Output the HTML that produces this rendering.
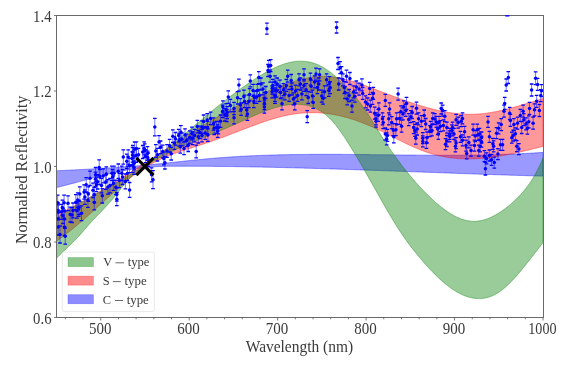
<!DOCTYPE html><html><head><meta charset="utf-8"><style>html,body{margin:0;padding:0;background:#fff;overflow:hidden}svg{display:block;will-change:transform}</style></head><body><svg width="565" height="369" viewBox="0 0 565 369">
<rect width="565" height="369" fill="#fff"/>
<clipPath id="c"><rect x="56.5" y="15.5" width="486.5" height="302.0"/></clipPath>
<g clip-path="url(#c)">
<path d="M56.50,170.78 L57.50,170.73 L58.50,170.68 L59.50,170.63 L60.50,170.58 L61.50,170.53 L62.50,170.48 L63.50,170.43 L64.50,170.38 L65.50,170.33 L66.50,170.28 L67.50,170.23 L68.50,170.18 L69.50,170.13 L70.50,170.08 L71.50,170.03 L72.50,169.98 L73.50,169.93 L74.50,169.88 L75.50,169.83 L76.50,169.77 L77.50,169.72 L78.50,169.67 L79.50,169.62 L80.50,169.57 L81.50,169.51 L82.50,169.46 L83.50,169.41 L84.50,169.35 L85.50,169.30 L86.50,169.25 L87.50,169.19 L88.50,169.14 L89.50,169.08 L90.50,169.03 L91.50,168.97 L92.50,168.92 L93.50,168.86 L94.50,168.80 L95.50,168.75 L96.50,168.69 L97.50,168.63 L98.50,168.57 L99.50,168.51 L100.50,168.45 L101.50,168.39 L102.50,168.33 L103.50,168.27 L104.50,168.21 L105.50,168.15 L106.50,168.09 L107.50,168.03 L108.50,167.96 L109.50,167.90 L110.50,167.83 L111.50,167.77 L112.50,167.70 L113.50,167.64 L114.50,167.57 L115.50,167.50 L116.50,167.43 L117.50,167.36 L118.50,167.29 L119.50,167.22 L120.50,167.15 L121.50,167.08 L122.50,167.01 L123.50,166.93 L124.50,166.86 L125.50,166.79 L126.50,166.71 L127.50,166.63 L128.50,166.56 L129.50,166.48 L130.50,166.40 L131.50,166.32 L132.50,166.24 L133.50,166.16 L134.50,166.08 L135.50,165.99 L136.50,165.91 L137.50,165.82 L138.50,165.74 L139.50,165.65 L140.50,165.56 L141.50,165.48 L142.50,165.39 L143.50,165.30 L144.50,165.20 L145.50,165.11 L146.50,165.02 L147.50,164.92 L148.50,164.83 L149.50,164.73 L150.50,164.64 L151.50,164.54 L152.50,164.44 L153.50,164.34 L154.50,164.24 L155.50,164.14 L156.50,164.04 L157.50,163.94 L158.50,163.83 L159.50,163.73 L160.50,163.63 L161.50,163.52 L162.50,163.42 L163.50,163.31 L164.50,163.21 L165.50,163.10 L166.50,163.00 L167.50,162.89 L168.50,162.78 L169.50,162.68 L170.50,162.57 L171.50,162.46 L172.50,162.35 L173.50,162.25 L174.50,162.14 L175.50,162.03 L176.50,161.92 L177.50,161.82 L178.50,161.71 L179.50,161.60 L180.50,161.49 L181.50,161.39 L182.50,161.28 L183.50,161.17 L184.50,161.07 L185.50,160.96 L186.50,160.86 L187.50,160.75 L188.50,160.65 L189.50,160.54 L190.50,160.44 L191.50,160.33 L192.50,160.23 L193.50,160.13 L194.50,160.03 L195.50,159.93 L196.50,159.82 L197.50,159.72 L198.50,159.63 L199.50,159.53 L200.50,159.43 L201.50,159.33 L202.50,159.24 L203.50,159.14 L204.50,159.05 L205.50,158.95 L206.50,158.86 L207.50,158.77 L208.50,158.68 L209.50,158.59 L210.50,158.50 L211.50,158.42 L212.50,158.33 L213.50,158.25 L214.50,158.16 L215.50,158.08 L216.50,158.00 L217.50,157.92 L218.50,157.84 L219.50,157.76 L220.50,157.69 L221.50,157.61 L222.50,157.54 L223.50,157.46 L224.50,157.39 L225.50,157.32 L226.50,157.25 L227.50,157.18 L228.50,157.11 L229.50,157.04 L230.50,156.98 L231.50,156.91 L232.50,156.85 L233.50,156.78 L234.50,156.72 L235.50,156.66 L236.50,156.60 L237.50,156.54 L238.50,156.48 L239.50,156.42 L240.50,156.37 L241.50,156.31 L242.50,156.26 L243.50,156.20 L244.50,156.15 L245.50,156.10 L246.50,156.05 L247.50,156.00 L248.50,155.95 L249.50,155.90 L250.50,155.85 L251.50,155.81 L252.50,155.76 L253.50,155.71 L254.50,155.67 L255.50,155.63 L256.50,155.58 L257.50,155.54 L258.50,155.50 L259.50,155.46 L260.50,155.42 L261.50,155.39 L262.50,155.35 L263.50,155.31 L264.50,155.28 L265.50,155.24 L266.50,155.21 L267.50,155.17 L268.50,155.14 L269.50,155.11 L270.50,155.08 L271.50,155.05 L272.50,155.02 L273.50,154.99 L274.50,154.96 L275.50,154.93 L276.50,154.90 L277.50,154.88 L278.50,154.85 L279.50,154.83 L280.50,154.80 L281.50,154.78 L282.50,154.76 L283.50,154.74 L284.50,154.71 L285.50,154.69 L286.50,154.67 L287.50,154.65 L288.50,154.63 L289.50,154.62 L290.50,154.60 L291.50,154.58 L292.50,154.57 L293.50,154.55 L294.50,154.53 L295.50,154.52 L296.50,154.51 L297.50,154.49 L298.50,154.48 L299.50,154.47 L300.50,154.46 L301.50,154.44 L302.50,154.43 L303.50,154.42 L304.50,154.41 L305.50,154.40 L306.50,154.40 L307.50,154.39 L308.50,154.38 L309.50,154.37 L310.50,154.37 L311.50,154.36 L312.50,154.36 L313.50,154.35 L314.50,154.35 L315.50,154.34 L316.50,154.34 L317.50,154.33 L318.50,154.33 L319.50,154.33 L320.50,154.33 L321.50,154.33 L322.50,154.32 L323.50,154.32 L324.50,154.32 L325.50,154.32 L326.50,154.32 L327.50,154.32 L328.50,154.33 L329.50,154.33 L330.50,154.33 L331.50,154.33 L332.50,154.33 L333.50,154.34 L334.50,154.34 L335.50,154.34 L336.50,154.35 L337.50,154.35 L338.50,154.36 L339.50,154.36 L340.50,154.37 L341.50,154.37 L342.50,154.38 L343.50,154.38 L344.50,154.39 L345.50,154.40 L346.50,154.40 L347.50,154.41 L348.50,154.42 L349.50,154.42 L350.50,154.43 L351.50,154.44 L352.50,154.45 L353.50,154.46 L354.50,154.47 L355.50,154.47 L356.50,154.48 L357.50,154.49 L358.50,154.50 L359.50,154.51 L360.50,154.52 L361.50,154.53 L362.50,154.54 L363.50,154.55 L364.50,154.56 L365.50,154.57 L366.50,154.58 L367.50,154.59 L368.50,154.60 L369.50,154.62 L370.50,154.63 L371.50,154.64 L372.50,154.65 L373.50,154.66 L374.50,154.67 L375.50,154.68 L376.50,154.69 L377.50,154.71 L378.50,154.72 L379.50,154.73 L380.50,154.74 L381.50,154.75 L382.50,154.76 L383.50,154.78 L384.50,154.79 L385.50,154.80 L386.50,154.81 L387.50,154.82 L388.50,154.83 L389.50,154.85 L390.50,154.86 L391.50,154.87 L392.50,154.88 L393.50,154.89 L394.50,154.90 L395.50,154.92 L396.50,154.93 L397.50,154.94 L398.50,154.95 L399.50,154.96 L400.50,154.97 L401.50,154.98 L402.50,154.99 L403.50,155.00 L404.50,155.01 L405.50,155.02 L406.50,155.04 L407.50,155.05 L408.50,155.06 L409.50,155.07 L410.50,155.07 L411.50,155.08 L412.50,155.09 L413.50,155.10 L414.50,155.11 L415.50,155.12 L416.50,155.13 L417.50,155.14 L418.50,155.15 L419.50,155.15 L420.50,155.16 L421.50,155.17 L422.50,155.18 L423.50,155.18 L424.50,155.19 L425.50,155.20 L426.50,155.20 L427.50,155.21 L428.50,155.22 L429.50,155.22 L430.50,155.23 L431.50,155.23 L432.50,155.24 L433.50,155.24 L434.50,155.24 L435.50,155.25 L436.50,155.25 L437.50,155.25 L438.50,155.26 L439.50,155.26 L440.50,155.26 L441.50,155.26 L442.50,155.26 L443.50,155.26 L444.50,155.26 L445.50,155.26 L446.50,155.26 L447.50,155.26 L448.50,155.26 L449.50,155.26 L450.50,155.26 L451.50,155.26 L452.50,155.25 L453.50,155.25 L454.50,155.25 L455.50,155.24 L456.50,155.24 L457.50,155.23 L458.50,155.23 L459.50,155.22 L460.50,155.21 L461.50,155.21 L462.50,155.20 L463.50,155.19 L464.50,155.18 L465.50,155.17 L466.50,155.16 L467.50,155.15 L468.50,155.14 L469.50,155.13 L470.50,155.12 L471.50,155.11 L472.50,155.10 L473.50,155.08 L474.50,155.07 L475.50,155.05 L476.50,155.04 L477.50,155.02 L478.50,155.01 L479.50,154.99 L480.50,154.97 L481.50,154.95 L482.50,154.94 L483.50,154.92 L484.50,154.90 L485.50,154.87 L486.50,154.85 L487.50,154.83 L488.50,154.81 L489.50,154.79 L490.50,154.76 L491.50,154.74 L492.50,154.71 L493.50,154.68 L494.50,154.66 L495.50,154.63 L496.50,154.60 L497.50,154.57 L498.50,154.54 L499.50,154.51 L500.50,154.48 L501.50,154.45 L502.50,154.42 L503.50,154.38 L504.50,154.35 L505.50,154.31 L506.50,154.28 L507.50,154.24 L508.50,154.20 L509.50,154.17 L510.50,154.13 L511.50,154.09 L512.50,154.05 L513.50,154.01 L514.50,153.96 L515.50,153.92 L516.50,153.88 L517.50,153.83 L518.50,153.79 L519.50,153.74 L520.50,153.69 L521.50,153.64 L522.50,153.59 L523.50,153.54 L524.50,153.49 L525.50,153.44 L526.50,153.39 L527.50,153.33 L528.50,153.28 L529.50,153.22 L530.50,153.17 L531.50,153.11 L532.50,153.05 L533.50,152.99 L534.50,152.93 L535.50,152.87 L536.50,152.81 L537.50,152.74 L538.50,152.68 L539.50,152.61 L540.50,152.55 L541.50,152.48 L542.50,152.41 L543.00,152.38 L543.00,176.13 L542.50,176.12 L541.50,176.09 L540.50,176.06 L539.50,176.04 L538.50,176.01 L537.50,175.98 L536.50,175.95 L535.50,175.92 L534.50,175.90 L533.50,175.87 L532.50,175.84 L531.50,175.81 L530.50,175.78 L529.50,175.75 L528.50,175.72 L527.50,175.69 L526.50,175.66 L525.50,175.63 L524.50,175.60 L523.50,175.57 L522.50,175.54 L521.50,175.51 L520.50,175.48 L519.50,175.45 L518.50,175.42 L517.50,175.39 L516.50,175.36 L515.50,175.33 L514.50,175.30 L513.50,175.27 L512.50,175.24 L511.50,175.21 L510.50,175.18 L509.50,175.14 L508.50,175.11 L507.50,175.08 L506.50,175.05 L505.50,175.02 L504.50,174.98 L503.50,174.95 L502.50,174.92 L501.50,174.89 L500.50,174.86 L499.50,174.82 L498.50,174.79 L497.50,174.76 L496.50,174.72 L495.50,174.69 L494.50,174.66 L493.50,174.63 L492.50,174.59 L491.50,174.56 L490.50,174.53 L489.50,174.49 L488.50,174.46 L487.50,174.42 L486.50,174.39 L485.50,174.36 L484.50,174.32 L483.50,174.29 L482.50,174.25 L481.50,174.22 L480.50,174.19 L479.50,174.15 L478.50,174.12 L477.50,174.08 L476.50,174.05 L475.50,174.01 L474.50,173.98 L473.50,173.94 L472.50,173.91 L471.50,173.87 L470.50,173.84 L469.50,173.80 L468.50,173.77 L467.50,173.73 L466.50,173.70 L465.50,173.66 L464.50,173.63 L463.50,173.59 L462.50,173.56 L461.50,173.52 L460.50,173.49 L459.50,173.45 L458.50,173.41 L457.50,173.38 L456.50,173.34 L455.50,173.31 L454.50,173.27 L453.50,173.24 L452.50,173.20 L451.50,173.16 L450.50,173.13 L449.50,173.09 L448.50,173.06 L447.50,173.02 L446.50,172.98 L445.50,172.95 L444.50,172.91 L443.50,172.87 L442.50,172.84 L441.50,172.80 L440.50,172.77 L439.50,172.73 L438.50,172.69 L437.50,172.66 L436.50,172.62 L435.50,172.58 L434.50,172.55 L433.50,172.51 L432.50,172.47 L431.50,172.44 L430.50,172.40 L429.50,172.36 L428.50,172.33 L427.50,172.29 L426.50,172.26 L425.50,172.22 L424.50,172.18 L423.50,172.15 L422.50,172.11 L421.50,172.07 L420.50,172.04 L419.50,172.00 L418.50,171.96 L417.50,171.93 L416.50,171.89 L415.50,171.85 L414.50,171.82 L413.50,171.78 L412.50,171.74 L411.50,171.71 L410.50,171.67 L409.50,171.63 L408.50,171.60 L407.50,171.56 L406.50,171.52 L405.50,171.49 L404.50,171.45 L403.50,171.42 L402.50,171.38 L401.50,171.34 L400.50,171.31 L399.50,171.27 L398.50,171.23 L397.50,171.20 L396.50,171.16 L395.50,171.13 L394.50,171.09 L393.50,171.05 L392.50,171.02 L391.50,170.98 L390.50,170.94 L389.50,170.91 L388.50,170.87 L387.50,170.84 L386.50,170.80 L385.50,170.77 L384.50,170.73 L383.50,170.69 L382.50,170.66 L381.50,170.62 L380.50,170.59 L379.50,170.55 L378.50,170.52 L377.50,170.48 L376.50,170.45 L375.50,170.41 L374.50,170.38 L373.50,170.34 L372.50,170.31 L371.50,170.27 L370.50,170.24 L369.50,170.20 L368.50,170.17 L367.50,170.13 L366.50,170.10 L365.50,170.06 L364.50,170.03 L363.50,169.99 L362.50,169.96 L361.50,169.92 L360.50,169.89 L359.50,169.86 L358.50,169.82 L357.50,169.79 L356.50,169.75 L355.50,169.72 L354.50,169.69 L353.50,169.65 L352.50,169.62 L351.50,169.59 L350.50,169.55 L349.50,169.52 L348.50,169.49 L347.50,169.45 L346.50,169.42 L345.50,169.39 L344.50,169.35 L343.50,169.32 L342.50,169.29 L341.50,169.26 L340.50,169.22 L339.50,169.19 L338.50,169.16 L337.50,169.13 L336.50,169.09 L335.50,169.06 L334.50,169.03 L333.50,169.00 L332.50,168.97 L331.50,168.94 L330.50,168.90 L329.50,168.87 L328.50,168.84 L327.50,168.81 L326.50,168.78 L325.50,168.75 L324.50,168.72 L323.50,168.69 L322.50,168.66 L321.50,168.63 L320.50,168.60 L319.50,168.57 L318.50,168.54 L317.50,168.51 L316.50,168.48 L315.50,168.45 L314.50,168.42 L313.50,168.39 L312.50,168.36 L311.50,168.33 L310.50,168.30 L309.50,168.27 L308.50,168.25 L307.50,168.22 L306.50,168.19 L305.50,168.16 L304.50,168.13 L303.50,168.11 L302.50,168.08 L301.50,168.05 L300.50,168.02 L299.50,168.00 L298.50,167.97 L297.50,167.94 L296.50,167.92 L295.50,167.89 L294.50,167.86 L293.50,167.84 L292.50,167.81 L291.50,167.79 L290.50,167.76 L289.50,167.73 L288.50,167.71 L287.50,167.68 L286.50,167.66 L285.50,167.63 L284.50,167.61 L283.50,167.58 L282.50,167.56 L281.50,167.54 L280.50,167.51 L279.50,167.49 L278.50,167.46 L277.50,167.44 L276.50,167.42 L275.50,167.39 L274.50,167.37 L273.50,167.35 L272.50,167.33 L271.50,167.30 L270.50,167.28 L269.50,167.26 L268.50,167.24 L267.50,167.22 L266.50,167.20 L265.50,167.17 L264.50,167.15 L263.50,167.13 L262.50,167.11 L261.50,167.09 L260.50,167.07 L259.50,167.05 L258.50,167.03 L257.50,167.01 L256.50,166.99 L255.50,166.97 L254.50,166.96 L253.50,166.94 L252.50,166.92 L251.50,166.90 L250.50,166.88 L249.50,166.86 L248.50,166.85 L247.50,166.83 L246.50,166.81 L245.50,166.80 L244.50,166.78 L243.50,166.76 L242.50,166.75 L241.50,166.73 L240.50,166.71 L239.50,166.70 L238.50,166.68 L237.50,166.67 L236.50,166.65 L235.50,166.64 L234.50,166.63 L233.50,166.61 L232.50,166.60 L231.50,166.58 L230.50,166.57 L229.50,166.56 L228.50,166.54 L227.50,166.53 L226.50,166.52 L225.50,166.51 L224.50,166.50 L223.50,166.48 L222.50,166.47 L221.50,166.46 L220.50,166.45 L219.50,166.44 L218.50,166.43 L217.50,166.42 L216.50,166.41 L215.50,166.40 L214.50,166.39 L213.50,166.38 L212.50,166.37 L211.50,166.36 L210.50,166.36 L209.50,166.35 L208.50,166.34 L207.50,166.33 L206.50,166.33 L205.50,166.32 L204.50,166.31 L203.50,166.31 L202.50,166.30 L201.50,166.29 L200.50,166.29 L199.50,166.28 L198.50,166.28 L197.50,166.27 L196.50,166.27 L195.50,166.26 L194.50,166.26 L193.50,166.26 L192.50,166.25 L191.50,166.25 L190.50,166.25 L189.50,166.25 L188.50,166.24 L187.50,166.24 L186.50,166.24 L185.50,166.24 L184.50,166.24 L183.50,166.24 L182.50,166.24 L181.50,166.24 L180.50,166.24 L179.50,166.24 L178.50,166.24 L177.50,166.24 L176.50,166.24 L175.50,166.25 L174.50,166.25 L173.50,166.26 L172.50,166.26 L171.50,166.27 L170.50,166.28 L169.50,166.29 L168.50,166.30 L167.50,166.32 L166.50,166.34 L165.50,166.36 L164.50,166.38 L163.50,166.40 L162.50,166.43 L161.50,166.46 L160.50,166.49 L159.50,166.53 L158.50,166.56 L157.50,166.61 L156.50,166.65 L155.50,166.70 L154.50,166.76 L153.50,166.81 L152.50,166.87 L151.50,166.94 L150.50,167.01 L149.50,167.09 L148.50,167.16 L147.50,167.25 L146.50,167.34 L145.50,167.43 L144.50,167.53 L143.50,167.64 L142.50,167.75 L141.50,167.86 L140.50,167.98 L139.50,168.11 L138.50,168.24 L137.50,168.37 L136.50,168.51 L135.50,168.66 L134.50,168.81 L133.50,168.96 L132.50,169.12 L131.50,169.28 L130.50,169.45 L129.50,169.62 L128.50,169.79 L127.50,169.97 L126.50,170.15 L125.50,170.34 L124.50,170.53 L123.50,170.72 L122.50,170.92 L121.50,171.12 L120.50,171.32 L119.50,171.53 L118.50,171.74 L117.50,171.96 L116.50,172.17 L115.50,172.39 L114.50,172.61 L113.50,172.84 L112.50,173.07 L111.50,173.30 L110.50,173.53 L109.50,173.77 L108.50,174.01 L107.50,174.25 L106.50,174.49 L105.50,174.73 L104.50,174.98 L103.50,175.23 L102.50,175.48 L101.50,175.73 L100.50,175.99 L99.50,176.24 L98.50,176.50 L97.50,176.76 L96.50,177.02 L95.50,177.28 L94.50,177.54 L93.50,177.81 L92.50,178.07 L91.50,178.34 L90.50,178.61 L89.50,178.87 L88.50,179.14 L87.50,179.41 L86.50,179.68 L85.50,179.95 L84.50,180.22 L83.50,180.49 L82.50,180.76 L81.50,181.03 L80.50,181.30 L79.50,181.58 L78.50,181.85 L77.50,182.12 L76.50,182.39 L75.50,182.66 L74.50,182.93 L73.50,183.20 L72.50,183.47 L71.50,183.73 L70.50,184.00 L69.50,184.27 L68.50,184.53 L67.50,184.80 L66.50,185.06 L65.50,185.32 L64.50,185.58 L63.50,185.84 L62.50,186.10 L61.50,186.36 L60.50,186.61 L59.50,186.86 L58.50,187.11 L57.50,187.36 L56.50,187.61 Z" fill="rgb(0,0,255)" fill-opacity="0.4" stroke="rgb(0,0,255)" stroke-opacity="0.4" stroke-width="1"/>
<path d="M56.50,214.74 L57.50,214.27 L58.50,213.80 L59.50,213.33 L60.50,212.85 L61.50,212.36 L62.50,211.88 L63.50,211.39 L64.50,210.89 L65.50,210.39 L66.50,209.89 L67.50,209.39 L68.50,208.88 L69.50,208.37 L70.50,207.85 L71.50,207.34 L72.50,206.82 L73.50,206.29 L74.50,205.76 L75.50,205.23 L76.50,204.70 L77.50,204.16 L78.50,203.62 L79.50,203.08 L80.50,202.53 L81.50,201.99 L82.50,201.43 L83.50,200.88 L84.50,200.32 L85.50,199.76 L86.50,199.20 L87.50,198.64 L88.50,198.07 L89.50,197.50 L90.50,196.92 L91.50,196.35 L92.50,195.77 L93.50,195.19 L94.50,194.61 L95.50,194.02 L96.50,193.44 L97.50,192.85 L98.50,192.25 L99.50,191.66 L100.50,191.06 L101.50,190.47 L102.50,189.86 L103.50,189.26 L104.50,188.66 L105.50,188.05 L106.50,187.44 L107.50,186.83 L108.50,186.22 L109.50,185.61 L110.50,184.99 L111.50,184.37 L112.50,183.75 L113.50,183.13 L114.50,182.51 L115.50,181.88 L116.50,181.26 L117.50,180.63 L118.50,180.00 L119.50,179.37 L120.50,178.74 L121.50,178.11 L122.50,177.47 L123.50,176.84 L124.50,176.20 L125.50,175.56 L126.50,174.92 L127.50,174.28 L128.50,173.64 L129.50,173.00 L130.50,172.36 L131.50,171.71 L132.50,171.07 L133.50,170.42 L134.50,169.77 L135.50,169.13 L136.50,168.48 L137.50,167.83 L138.50,167.18 L139.50,166.53 L140.50,165.87 L141.50,165.22 L142.50,164.57 L143.50,163.92 L144.50,163.26 L145.50,162.61 L146.50,161.95 L147.50,161.30 L148.50,160.64 L149.50,159.99 L150.50,159.33 L151.50,158.68 L152.50,158.02 L153.50,157.37 L154.50,156.71 L155.50,156.05 L156.50,155.40 L157.50,154.74 L158.50,154.08 L159.50,153.43 L160.50,152.77 L161.50,152.12 L162.50,151.46 L163.50,150.80 L164.50,150.15 L165.50,149.50 L166.50,148.84 L167.50,148.19 L168.50,147.53 L169.50,146.88 L170.50,146.23 L171.50,145.58 L172.50,144.92 L173.50,144.27 L174.50,143.62 L175.50,142.97 L176.50,142.33 L177.50,141.68 L178.50,141.03 L179.50,140.38 L180.50,139.74 L181.50,139.10 L182.50,138.45 L183.50,137.81 L184.50,137.17 L185.50,136.53 L186.50,135.89 L187.50,135.25 L188.50,134.62 L189.50,133.98 L190.50,133.35 L191.50,132.71 L192.50,132.08 L193.50,131.45 L194.50,130.82 L195.50,130.20 L196.50,129.57 L197.50,128.95 L198.50,128.33 L199.50,127.70 L200.50,127.09 L201.50,126.47 L202.50,125.85 L203.50,125.24 L204.50,124.63 L205.50,124.02 L206.50,123.41 L207.50,122.80 L208.50,122.20 L209.50,121.60 L210.50,121.00 L211.50,120.40 L212.50,119.80 L213.50,119.21 L214.50,118.62 L215.50,118.03 L216.50,117.44 L217.50,116.86 L218.50,116.28 L219.50,115.70 L220.50,115.12 L221.50,114.54 L222.50,113.97 L223.50,113.40 L224.50,112.83 L225.50,112.27 L226.50,111.71 L227.50,111.15 L228.50,110.59 L229.50,110.04 L230.50,109.49 L231.50,108.94 L232.50,108.40 L233.50,107.85 L234.50,107.31 L235.50,106.78 L236.50,106.24 L237.50,105.71 L238.50,105.19 L239.50,104.66 L240.50,104.14 L241.50,103.63 L242.50,103.11 L243.50,102.60 L244.50,102.10 L245.50,101.59 L246.50,101.09 L247.50,100.59 L248.50,100.10 L249.50,99.61 L250.50,99.12 L251.50,98.64 L252.50,98.16 L253.50,97.69 L254.50,97.21 L255.50,96.75 L256.50,96.28 L257.50,95.82 L258.50,95.36 L259.50,94.91 L260.50,94.46 L261.50,94.01 L262.50,93.57 L263.50,93.13 L264.50,92.69 L265.50,92.26 L266.50,91.83 L267.50,91.41 L268.50,90.99 L269.50,90.57 L270.50,90.16 L271.50,89.75 L272.50,89.34 L273.50,88.94 L274.50,88.55 L275.50,88.15 L276.50,87.76 L277.50,87.38 L278.50,87.00 L279.50,86.62 L280.50,86.25 L281.50,85.88 L282.50,85.52 L283.50,85.16 L284.50,84.80 L285.50,84.45 L286.50,84.10 L287.50,83.76 L288.50,83.42 L289.50,83.08 L290.50,82.75 L291.50,82.42 L292.50,82.10 L293.50,81.78 L294.50,81.47 L295.50,81.16 L296.50,80.86 L297.50,80.56 L298.50,80.26 L299.50,79.98 L300.50,79.70 L301.50,79.42 L302.50,79.16 L303.50,78.90 L304.50,78.65 L305.50,78.41 L306.50,78.18 L307.50,77.96 L308.50,77.75 L309.50,77.55 L310.50,77.36 L311.50,77.19 L312.50,77.02 L313.50,76.87 L314.50,76.74 L315.50,76.62 L316.50,76.51 L317.50,76.42 L318.50,76.34 L319.50,76.28 L320.50,76.23 L321.50,76.20 L322.50,76.19 L323.50,76.19 L324.50,76.20 L325.50,76.23 L326.50,76.27 L327.50,76.32 L328.50,76.39 L329.50,76.47 L330.50,76.56 L331.50,76.67 L332.50,76.79 L333.50,76.92 L334.50,77.06 L335.50,77.21 L336.50,77.38 L337.50,77.55 L338.50,77.74 L339.50,77.93 L340.50,78.14 L341.50,78.35 L342.50,78.58 L343.50,78.81 L344.50,79.05 L345.50,79.30 L346.50,79.56 L347.50,79.83 L348.50,80.11 L349.50,80.39 L350.50,80.68 L351.50,80.98 L352.50,81.28 L353.50,81.59 L354.50,81.91 L355.50,82.23 L356.50,82.56 L357.50,82.89 L358.50,83.23 L359.50,83.57 L360.50,83.92 L361.50,84.27 L362.50,84.62 L363.50,84.98 L364.50,85.35 L365.50,85.71 L366.50,86.08 L367.50,86.45 L368.50,86.83 L369.50,87.20 L370.50,87.58 L371.50,87.96 L372.50,88.34 L373.50,88.72 L374.50,89.11 L375.50,89.49 L376.50,89.87 L377.50,90.25 L378.50,90.64 L379.50,91.02 L380.50,91.40 L381.50,91.79 L382.50,92.17 L383.50,92.55 L384.50,92.93 L385.50,93.32 L386.50,93.70 L387.50,94.08 L388.50,94.46 L389.50,94.83 L390.50,95.21 L391.50,95.59 L392.50,95.96 L393.50,96.34 L394.50,96.71 L395.50,97.08 L396.50,97.45 L397.50,97.82 L398.50,98.18 L399.50,98.55 L400.50,98.91 L401.50,99.27 L402.50,99.63 L403.50,99.99 L404.50,100.34 L405.50,100.69 L406.50,101.04 L407.50,101.39 L408.50,101.73 L409.50,102.08 L410.50,102.42 L411.50,102.75 L412.50,103.09 L413.50,103.42 L414.50,103.74 L415.50,104.07 L416.50,104.39 L417.50,104.71 L418.50,105.02 L419.50,105.33 L420.50,105.64 L421.50,105.94 L422.50,106.24 L423.50,106.54 L424.50,106.83 L425.50,107.12 L426.50,107.40 L427.50,107.68 L428.50,107.96 L429.50,108.23 L430.50,108.49 L431.50,108.75 L432.50,109.01 L433.50,109.26 L434.50,109.51 L435.50,109.75 L436.50,109.99 L437.50,110.22 L438.50,110.45 L439.50,110.67 L440.50,110.89 L441.50,111.10 L442.50,111.30 L443.50,111.50 L444.50,111.69 L445.50,111.88 L446.50,112.06 L447.50,112.23 L448.50,112.40 L449.50,112.56 L450.50,112.72 L451.50,112.86 L452.50,113.01 L453.50,113.14 L454.50,113.27 L455.50,113.39 L456.50,113.50 L457.50,113.61 L458.50,113.71 L459.50,113.80 L460.50,113.88 L461.50,113.96 L462.50,114.03 L463.50,114.09 L464.50,114.14 L465.50,114.19 L466.50,114.22 L467.50,114.25 L468.50,114.27 L469.50,114.29 L470.50,114.29 L471.50,114.28 L472.50,114.27 L473.50,114.25 L474.50,114.21 L475.50,114.17 L476.50,114.12 L477.50,114.06 L478.50,114.00 L479.50,113.92 L480.50,113.84 L481.50,113.74 L482.50,113.64 L483.50,113.53 L484.50,113.42 L485.50,113.29 L486.50,113.16 L487.50,113.02 L488.50,112.87 L489.50,112.72 L490.50,112.56 L491.50,112.39 L492.50,112.22 L493.50,112.04 L494.50,111.85 L495.50,111.66 L496.50,111.46 L497.50,111.26 L498.50,111.05 L499.50,110.84 L500.50,110.62 L501.50,110.39 L502.50,110.16 L503.50,109.93 L504.50,109.69 L505.50,109.44 L506.50,109.20 L507.50,108.94 L508.50,108.69 L509.50,108.43 L510.50,108.16 L511.50,107.90 L512.50,107.63 L513.50,107.35 L514.50,107.08 L515.50,106.80 L516.50,106.51 L517.50,106.23 L518.50,105.94 L519.50,105.65 L520.50,105.36 L521.50,105.07 L522.50,104.77 L523.50,104.47 L524.50,104.17 L525.50,103.88 L526.50,103.57 L527.50,103.27 L528.50,102.97 L529.50,102.67 L530.50,102.36 L531.50,102.06 L532.50,101.75 L533.50,101.45 L534.50,101.15 L535.50,100.84 L536.50,100.54 L537.50,100.23 L538.50,99.93 L539.50,99.63 L540.50,99.33 L541.50,99.03 L542.50,98.73 L543.00,98.59 L543.00,146.38 L542.50,146.51 L541.50,146.76 L540.50,147.02 L539.50,147.28 L538.50,147.53 L537.50,147.78 L536.50,148.04 L535.50,148.29 L534.50,148.54 L533.50,148.79 L532.50,149.04 L531.50,149.29 L530.50,149.54 L529.50,149.78 L528.50,150.03 L527.50,150.27 L526.50,150.51 L525.50,150.75 L524.50,150.99 L523.50,151.22 L522.50,151.46 L521.50,151.69 L520.50,151.92 L519.50,152.14 L518.50,152.37 L517.50,152.59 L516.50,152.81 L515.50,153.03 L514.50,153.25 L513.50,153.46 L512.50,153.67 L511.50,153.88 L510.50,154.08 L509.50,154.28 L508.50,154.48 L507.50,154.67 L506.50,154.86 L505.50,155.05 L504.50,155.24 L503.50,155.42 L502.50,155.60 L501.50,155.77 L500.50,155.94 L499.50,156.11 L498.50,156.27 L497.50,156.43 L496.50,156.58 L495.50,156.73 L494.50,156.88 L493.50,157.02 L492.50,157.15 L491.50,157.29 L490.50,157.41 L489.50,157.54 L488.50,157.66 L487.50,157.77 L486.50,157.88 L485.50,157.98 L484.50,158.08 L483.50,158.17 L482.50,158.26 L481.50,158.34 L480.50,158.42 L479.50,158.49 L478.50,158.56 L477.50,158.62 L476.50,158.67 L475.50,158.72 L474.50,158.76 L473.50,158.80 L472.50,158.83 L471.50,158.85 L470.50,158.87 L469.50,158.88 L468.50,158.88 L467.50,158.88 L466.50,158.87 L465.50,158.86 L464.50,158.84 L463.50,158.81 L462.50,158.77 L461.50,158.73 L460.50,158.68 L459.50,158.62 L458.50,158.56 L457.50,158.49 L456.50,158.41 L455.50,158.32 L454.50,158.23 L453.50,158.12 L452.50,158.01 L451.50,157.90 L450.50,157.77 L449.50,157.64 L448.50,157.50 L447.50,157.34 L446.50,157.19 L445.50,157.02 L444.50,156.84 L443.50,156.66 L442.50,156.47 L441.50,156.27 L440.50,156.06 L439.50,155.84 L438.50,155.61 L437.50,155.37 L436.50,155.12 L435.50,154.87 L434.50,154.60 L433.50,154.33 L432.50,154.05 L431.50,153.75 L430.50,153.45 L429.50,153.14 L428.50,152.82 L427.50,152.48 L426.50,152.14 L425.50,151.79 L424.50,151.43 L423.50,151.06 L422.50,150.69 L421.50,150.31 L420.50,149.91 L419.50,149.51 L418.50,149.11 L417.50,148.69 L416.50,148.27 L415.50,147.85 L414.50,147.41 L413.50,146.98 L412.50,146.53 L411.50,146.08 L410.50,145.62 L409.50,145.16 L408.50,144.70 L407.50,144.23 L406.50,143.75 L405.50,143.28 L404.50,142.80 L403.50,142.31 L402.50,141.82 L401.50,141.33 L400.50,140.84 L399.50,140.34 L398.50,139.84 L397.50,139.34 L396.50,138.84 L395.50,138.33 L394.50,137.83 L393.50,137.32 L392.50,136.81 L391.50,136.31 L390.50,135.80 L389.50,135.29 L388.50,134.79 L387.50,134.28 L386.50,133.78 L385.50,133.27 L384.50,132.77 L383.50,132.28 L382.50,131.78 L381.50,131.29 L380.50,130.80 L379.50,130.32 L378.50,129.84 L377.50,129.36 L376.50,128.89 L375.50,128.43 L374.50,127.97 L373.50,127.51 L372.50,127.06 L371.50,126.62 L370.50,126.18 L369.50,125.75 L368.50,125.32 L367.50,124.90 L366.50,124.48 L365.50,124.07 L364.50,123.67 L363.50,123.27 L362.50,122.88 L361.50,122.49 L360.50,122.12 L359.50,121.74 L358.50,121.38 L357.50,121.02 L356.50,120.67 L355.50,120.32 L354.50,119.98 L353.50,119.65 L352.50,119.33 L351.50,119.01 L350.50,118.70 L349.50,118.39 L348.50,118.10 L347.50,117.81 L346.50,117.53 L345.50,117.25 L344.50,116.99 L343.50,116.73 L342.50,116.48 L341.50,116.23 L340.50,116.00 L339.50,115.77 L338.50,115.55 L337.50,115.34 L336.50,115.14 L335.50,114.94 L334.50,114.75 L333.50,114.57 L332.50,114.40 L331.50,114.24 L330.50,114.08 L329.50,113.93 L328.50,113.79 L327.50,113.66 L326.50,113.54 L325.50,113.42 L324.50,113.32 L323.50,113.22 L322.50,113.13 L321.50,113.04 L320.50,112.97 L319.50,112.90 L318.50,112.85 L317.50,112.80 L316.50,112.75 L315.50,112.72 L314.50,112.70 L313.50,112.68 L312.50,112.67 L311.50,112.67 L310.50,112.68 L309.50,112.70 L308.50,112.72 L307.50,112.76 L306.50,112.80 L305.50,112.85 L304.50,112.91 L303.50,112.98 L302.50,113.05 L301.50,113.14 L300.50,113.23 L299.50,113.34 L298.50,113.45 L297.50,113.57 L296.50,113.69 L295.50,113.83 L294.50,113.98 L293.50,114.13 L292.50,114.29 L291.50,114.46 L290.50,114.64 L289.50,114.83 L288.50,115.02 L287.50,115.22 L286.50,115.43 L285.50,115.65 L284.50,115.87 L283.50,116.10 L282.50,116.34 L281.50,116.58 L280.50,116.83 L279.50,117.09 L278.50,117.35 L277.50,117.62 L276.50,117.90 L275.50,118.18 L274.50,118.46 L273.50,118.76 L272.50,119.05 L271.50,119.36 L270.50,119.66 L269.50,119.98 L268.50,120.29 L267.50,120.62 L266.50,120.94 L265.50,121.27 L264.50,121.61 L263.50,121.94 L262.50,122.29 L261.50,122.63 L260.50,122.98 L259.50,123.34 L258.50,123.69 L257.50,124.05 L256.50,124.41 L255.50,124.78 L254.50,125.14 L253.50,125.51 L252.50,125.89 L251.50,126.26 L250.50,126.64 L249.50,127.02 L248.50,127.40 L247.50,127.78 L246.50,128.16 L245.50,128.54 L244.50,128.93 L243.50,129.32 L242.50,129.70 L241.50,130.09 L240.50,130.48 L239.50,130.87 L238.50,131.26 L237.50,131.64 L236.50,132.03 L235.50,132.42 L234.50,132.81 L233.50,133.20 L232.50,133.58 L231.50,133.97 L230.50,134.35 L229.50,134.74 L228.50,135.12 L227.50,135.50 L226.50,135.88 L225.50,136.26 L224.50,136.63 L223.50,137.01 L222.50,137.38 L221.50,137.75 L220.50,138.11 L219.50,138.48 L218.50,138.84 L217.50,139.20 L216.50,139.55 L215.50,139.91 L214.50,140.26 L213.50,140.61 L212.50,140.96 L211.50,141.30 L210.50,141.65 L209.50,141.99 L208.50,142.33 L207.50,142.67 L206.50,143.00 L205.50,143.34 L204.50,143.67 L203.50,144.00 L202.50,144.33 L201.50,144.66 L200.50,144.99 L199.50,145.31 L198.50,145.64 L197.50,145.96 L196.50,146.29 L195.50,146.61 L194.50,146.93 L193.50,147.25 L192.50,147.57 L191.50,147.89 L190.50,148.21 L189.50,148.53 L188.50,148.85 L187.50,149.17 L186.50,149.50 L185.50,149.82 L184.50,150.15 L183.50,150.48 L182.50,150.81 L181.50,151.14 L180.50,151.48 L179.50,151.82 L178.50,152.16 L177.50,152.51 L176.50,152.86 L175.50,153.22 L174.50,153.58 L173.50,153.94 L172.50,154.31 L171.50,154.69 L170.50,155.07 L169.50,155.45 L168.50,155.85 L167.50,156.24 L166.50,156.65 L165.50,157.06 L164.50,157.48 L163.50,157.91 L162.50,158.34 L161.50,158.79 L160.50,159.24 L159.50,159.70 L158.50,160.17 L157.50,160.64 L156.50,161.13 L155.50,161.63 L154.50,162.13 L153.50,162.65 L152.50,163.17 L151.50,163.71 L150.50,164.26 L149.50,164.82 L148.50,165.39 L147.50,165.97 L146.50,166.57 L145.50,167.17 L144.50,167.79 L143.50,168.42 L142.50,169.07 L141.50,169.73 L140.50,170.40 L139.50,171.09 L138.50,171.79 L137.50,172.50 L136.50,173.23 L135.50,173.97 L134.50,174.73 L133.50,175.49 L132.50,176.27 L131.50,177.06 L130.50,177.86 L129.50,178.68 L128.50,179.50 L127.50,180.33 L126.50,181.17 L125.50,182.01 L124.50,182.87 L123.50,183.73 L122.50,184.60 L121.50,185.47 L120.50,186.35 L119.50,187.23 L118.50,188.12 L117.50,189.01 L116.50,189.91 L115.50,190.80 L114.50,191.70 L113.50,192.60 L112.50,193.51 L111.50,194.41 L110.50,195.32 L109.50,196.22 L108.50,197.13 L107.50,198.04 L106.50,198.95 L105.50,199.86 L104.50,200.78 L103.50,201.69 L102.50,202.60 L101.50,203.51 L100.50,204.42 L99.50,205.33 L98.50,206.24 L97.50,207.15 L96.50,208.05 L95.50,208.96 L94.50,209.86 L93.50,210.77 L92.50,211.67 L91.50,212.57 L90.50,213.46 L89.50,214.35 L88.50,215.24 L87.50,216.13 L86.50,217.02 L85.50,217.90 L84.50,218.78 L83.50,219.65 L82.50,220.52 L81.50,221.39 L80.50,222.25 L79.50,223.10 L78.50,223.96 L77.50,224.80 L76.50,225.65 L75.50,226.48 L74.50,227.31 L73.50,228.14 L72.50,228.96 L71.50,229.77 L70.50,230.58 L69.50,231.38 L68.50,232.18 L67.50,232.97 L66.50,233.75 L65.50,234.52 L64.50,235.29 L63.50,236.05 L62.50,236.80 L61.50,237.54 L60.50,238.27 L59.50,239.00 L58.50,239.72 L57.50,240.43 L56.50,241.13 Z" fill="rgb(255,0,0)" fill-opacity="0.4" stroke="rgb(255,0,0)" stroke-opacity="0.4" stroke-width="1"/>
<path d="M56.50,217.95 L57.50,217.27 L58.50,216.60 L59.50,215.93 L60.50,215.27 L61.50,214.61 L62.50,213.96 L63.50,213.31 L64.50,212.66 L65.50,212.03 L66.50,211.39 L67.50,210.76 L68.50,210.14 L69.50,209.52 L70.50,208.90 L71.50,208.29 L72.50,207.68 L73.50,207.08 L74.50,206.47 L75.50,205.88 L76.50,205.28 L77.50,204.69 L78.50,204.10 L79.50,203.52 L80.50,202.93 L81.50,202.35 L82.50,201.78 L83.50,201.20 L84.50,200.63 L85.50,200.06 L86.50,199.49 L87.50,198.92 L88.50,198.36 L89.50,197.79 L90.50,197.23 L91.50,196.67 L92.50,196.11 L93.50,195.55 L94.50,194.99 L95.50,194.44 L96.50,193.88 L97.50,193.32 L98.50,192.77 L99.50,192.21 L100.50,191.66 L101.50,191.10 L102.50,190.55 L103.50,189.99 L104.50,189.43 L105.50,188.88 L106.50,188.32 L107.50,187.76 L108.50,187.20 L109.50,186.64 L110.50,186.08 L111.50,185.51 L112.50,184.95 L113.50,184.38 L114.50,183.81 L115.50,183.24 L116.50,182.67 L117.50,182.09 L118.50,181.52 L119.50,180.94 L120.50,180.35 L121.50,179.77 L122.50,179.18 L123.50,178.59 L124.50,178.00 L125.50,177.40 L126.50,176.80 L127.50,176.19 L128.50,175.58 L129.50,174.97 L130.50,174.36 L131.50,173.73 L132.50,173.11 L133.50,172.48 L134.50,171.85 L135.50,171.21 L136.50,170.57 L137.50,169.92 L138.50,169.27 L139.50,168.61 L140.50,167.95 L141.50,167.28 L142.50,166.60 L143.50,165.92 L144.50,165.24 L145.50,164.54 L146.50,163.85 L147.50,163.14 L148.50,162.43 L149.50,161.72 L150.50,161.00 L151.50,160.27 L152.50,159.54 L153.50,158.80 L154.50,158.06 L155.50,157.31 L156.50,156.56 L157.50,155.81 L158.50,155.05 L159.50,154.28 L160.50,153.51 L161.50,152.74 L162.50,151.96 L163.50,151.18 L164.50,150.39 L165.50,149.61 L166.50,148.81 L167.50,148.02 L168.50,147.22 L169.50,146.42 L170.50,145.61 L171.50,144.80 L172.50,143.99 L173.50,143.18 L174.50,142.36 L175.50,141.54 L176.50,140.72 L177.50,139.90 L178.50,139.07 L179.50,138.24 L180.50,137.41 L181.50,136.58 L182.50,135.75 L183.50,134.92 L184.50,134.08 L185.50,133.24 L186.50,132.40 L187.50,131.57 L188.50,130.73 L189.50,129.89 L190.50,129.04 L191.50,128.20 L192.50,127.36 L193.50,126.52 L194.50,125.68 L195.50,124.83 L196.50,123.99 L197.50,123.15 L198.50,122.31 L199.50,121.47 L200.50,120.63 L201.50,119.79 L202.50,118.95 L203.50,118.11 L204.50,117.27 L205.50,116.44 L206.50,115.60 L207.50,114.77 L208.50,113.94 L209.50,113.11 L210.50,112.28 L211.50,111.45 L212.50,110.63 L213.50,109.81 L214.50,108.99 L215.50,108.17 L216.50,107.36 L217.50,106.55 L218.50,105.74 L219.50,104.93 L220.50,104.13 L221.50,103.33 L222.50,102.53 L223.50,101.74 L224.50,100.95 L225.50,100.17 L226.50,99.38 L227.50,98.61 L228.50,97.83 L229.50,97.06 L230.50,96.30 L231.50,95.53 L232.50,94.78 L233.50,94.03 L234.50,93.28 L235.50,92.54 L236.50,91.80 L237.50,91.07 L238.50,90.34 L239.50,89.62 L240.50,88.90 L241.50,88.19 L242.50,87.48 L243.50,86.78 L244.50,86.08 L245.50,85.38 L246.50,84.69 L247.50,84.01 L248.50,83.32 L249.50,82.65 L250.50,81.97 L251.50,81.30 L252.50,80.63 L253.50,79.97 L254.50,79.32 L255.50,78.67 L256.50,78.02 L257.50,77.38 L258.50,76.75 L259.50,76.13 L260.50,75.51 L261.50,74.90 L262.50,74.30 L263.50,73.70 L264.50,73.12 L265.50,72.54 L266.50,71.98 L267.50,71.42 L268.50,70.88 L269.50,70.34 L270.50,69.82 L271.50,69.31 L272.50,68.81 L273.50,68.32 L274.50,67.84 L275.50,67.38 L276.50,66.93 L277.50,66.50 L278.50,66.07 L279.50,65.67 L280.50,65.28 L281.50,64.90 L282.50,64.54 L283.50,64.19 L284.50,63.86 L285.50,63.55 L286.50,63.26 L287.50,62.98 L288.50,62.72 L289.50,62.48 L290.50,62.26 L291.50,62.05 L292.50,61.87 L293.50,61.71 L294.50,61.56 L295.50,61.44 L296.50,61.34 L297.50,61.25 L298.50,61.19 L299.50,61.16 L300.50,61.14 L301.50,61.15 L302.50,61.18 L303.50,61.23 L304.50,61.31 L305.50,61.41 L306.50,61.53 L307.50,61.68 L308.50,61.86 L309.50,62.06 L310.50,62.28 L311.50,62.53 L312.50,62.80 L313.50,63.10 L314.50,63.43 L315.50,63.78 L316.50,64.16 L317.50,64.56 L318.50,64.99 L319.50,65.45 L320.50,65.94 L321.50,66.45 L322.50,67.00 L323.50,67.57 L324.50,68.17 L325.50,68.79 L326.50,69.45 L327.50,70.13 L328.50,70.85 L329.50,71.59 L330.50,72.37 L331.50,73.17 L332.50,74.00 L333.50,74.86 L334.50,75.73 L335.50,76.63 L336.50,77.55 L337.50,78.49 L338.50,79.44 L339.50,80.41 L340.50,81.39 L341.50,82.38 L342.50,83.38 L343.50,84.38 L344.50,85.39 L345.50,86.40 L346.50,87.41 L347.50,88.42 L348.50,89.45 L349.50,90.48 L350.50,91.53 L351.50,92.59 L352.50,93.67 L353.50,94.77 L354.50,95.90 L355.50,97.05 L356.50,98.23 L357.50,99.44 L358.50,100.69 L359.50,101.97 L360.50,103.28 L361.50,104.62 L362.50,105.99 L363.50,107.39 L364.50,108.83 L365.50,110.29 L366.50,111.79 L367.50,113.32 L368.50,114.87 L369.50,116.46 L370.50,118.07 L371.50,119.70 L372.50,121.34 L373.50,122.99 L374.50,124.65 L375.50,126.30 L376.50,127.95 L377.50,129.60 L378.50,131.23 L379.50,132.84 L380.50,134.44 L381.50,136.03 L382.50,137.60 L383.50,139.16 L384.50,140.71 L385.50,142.24 L386.50,143.76 L387.50,145.26 L388.50,146.75 L389.50,148.23 L390.50,149.69 L391.50,151.14 L392.50,152.58 L393.50,154.00 L394.50,155.41 L395.50,156.80 L396.50,158.19 L397.50,159.56 L398.50,160.91 L399.50,162.25 L400.50,163.58 L401.50,164.90 L402.50,166.21 L403.50,167.50 L404.50,168.77 L405.50,170.04 L406.50,171.29 L407.50,172.53 L408.50,173.76 L409.50,174.97 L410.50,176.18 L411.50,177.37 L412.50,178.54 L413.50,179.71 L414.50,180.86 L415.50,182.00 L416.50,183.13 L417.50,184.24 L418.50,185.35 L419.50,186.44 L420.50,187.52 L421.50,188.58 L422.50,189.64 L423.50,190.68 L424.50,191.71 L425.50,192.73 L426.50,193.74 L427.50,194.74 L428.50,195.72 L429.50,196.70 L430.50,197.66 L431.50,198.60 L432.50,199.54 L433.50,200.46 L434.50,201.37 L435.50,202.26 L436.50,203.14 L437.50,204.00 L438.50,204.85 L439.50,205.68 L440.50,206.49 L441.50,207.29 L442.50,208.07 L443.50,208.84 L444.50,209.58 L445.50,210.31 L446.50,211.01 L447.50,211.70 L448.50,212.37 L449.50,213.01 L450.50,213.64 L451.50,214.24 L452.50,214.83 L453.50,215.39 L454.50,215.93 L455.50,216.44 L456.50,216.93 L457.50,217.40 L458.50,217.85 L459.50,218.27 L460.50,218.66 L461.50,219.03 L462.50,219.37 L463.50,219.69 L464.50,219.98 L465.50,220.24 L466.50,220.48 L467.50,220.69 L468.50,220.87 L469.50,221.02 L470.50,221.14 L471.50,221.23 L472.50,221.29 L473.50,221.32 L474.50,221.32 L475.50,221.29 L476.50,221.22 L477.50,221.13 L478.50,221.01 L479.50,220.86 L480.50,220.68 L481.50,220.47 L482.50,220.24 L483.50,219.98 L484.50,219.69 L485.50,219.38 L486.50,219.04 L487.50,218.67 L488.50,218.29 L489.50,217.87 L490.50,217.44 L491.50,216.98 L492.50,216.50 L493.50,215.99 L494.50,215.47 L495.50,214.92 L496.50,214.36 L497.50,213.77 L498.50,213.17 L499.50,212.54 L500.50,211.90 L501.50,211.24 L502.50,210.55 L503.50,209.85 L504.50,209.12 L505.50,208.38 L506.50,207.61 L507.50,206.83 L508.50,206.02 L509.50,205.19 L510.50,204.34 L511.50,203.47 L512.50,202.58 L513.50,201.66 L514.50,200.73 L515.50,199.77 L516.50,198.78 L517.50,197.78 L518.50,196.75 L519.50,195.70 L520.50,194.63 L521.50,193.53 L522.50,192.41 L523.50,191.25 L524.50,190.06 L525.50,188.83 L526.50,187.56 L527.50,186.25 L528.50,184.89 L529.50,183.49 L530.50,182.03 L531.50,180.52 L532.50,178.95 L533.50,177.31 L534.50,175.61 L535.50,173.85 L536.50,172.01 L537.50,170.10 L538.50,168.12 L539.50,166.05 L540.50,163.90 L541.50,161.66 L542.50,159.33 L543.00,158.13 L543.00,242.76 L542.50,243.39 L541.50,244.65 L540.50,245.92 L539.50,247.19 L538.50,248.47 L537.50,249.76 L536.50,251.04 L535.50,252.33 L534.50,253.62 L533.50,254.91 L532.50,256.20 L531.50,257.49 L530.50,258.77 L529.50,260.05 L528.50,261.33 L527.50,262.59 L526.50,263.86 L525.50,265.11 L524.50,266.36 L523.50,267.59 L522.50,268.82 L521.50,270.03 L520.50,271.23 L519.50,272.42 L518.50,273.59 L517.50,274.75 L516.50,275.89 L515.50,277.01 L514.50,278.11 L513.50,279.19 L512.50,280.26 L511.50,281.30 L510.50,282.32 L509.50,283.31 L508.50,284.28 L507.50,285.23 L506.50,286.14 L505.50,287.03 L504.50,287.90 L503.50,288.73 L502.50,289.53 L501.50,290.30 L500.50,291.04 L499.50,291.74 L498.50,292.41 L497.50,293.05 L496.50,293.64 L495.50,294.21 L494.50,294.73 L493.50,295.22 L492.50,295.68 L491.50,296.10 L490.50,296.49 L489.50,296.85 L488.50,297.17 L487.50,297.45 L486.50,297.71 L485.50,297.93 L484.50,298.12 L483.50,298.28 L482.50,298.40 L481.50,298.50 L480.50,298.56 L479.50,298.60 L478.50,298.60 L477.50,298.57 L476.50,298.52 L475.50,298.43 L474.50,298.32 L473.50,298.18 L472.50,298.01 L471.50,297.81 L470.50,297.58 L469.50,297.33 L468.50,297.05 L467.50,296.74 L466.50,296.41 L465.50,296.05 L464.50,295.66 L463.50,295.25 L462.50,294.82 L461.50,294.36 L460.50,293.88 L459.50,293.37 L458.50,292.84 L457.50,292.29 L456.50,291.71 L455.50,291.11 L454.50,290.49 L453.50,289.85 L452.50,289.18 L451.50,288.49 L450.50,287.79 L449.50,287.06 L448.50,286.31 L447.50,285.55 L446.50,284.76 L445.50,283.95 L444.50,283.13 L443.50,282.28 L442.50,281.42 L441.50,280.54 L440.50,279.64 L439.50,278.73 L438.50,277.80 L437.50,276.85 L436.50,275.89 L435.50,274.91 L434.50,273.91 L433.50,272.90 L432.50,271.87 L431.50,270.83 L430.50,269.78 L429.50,268.71 L428.50,267.63 L427.50,266.53 L426.50,265.43 L425.50,264.31 L424.50,263.17 L423.50,262.03 L422.50,260.87 L421.50,259.70 L420.50,258.53 L419.50,257.34 L418.50,256.14 L417.50,254.93 L416.50,253.71 L415.50,252.48 L414.50,251.24 L413.50,249.98 L412.50,248.71 L411.50,247.43 L410.50,246.13 L409.50,244.82 L408.50,243.48 L407.50,242.13 L406.50,240.76 L405.50,239.37 L404.50,237.95 L403.50,236.52 L402.50,235.06 L401.50,233.58 L400.50,232.07 L399.50,230.55 L398.50,229.00 L397.50,227.44 L396.50,225.85 L395.50,224.25 L394.50,222.63 L393.50,221.00 L392.50,219.35 L391.50,217.68 L390.50,216.00 L389.50,214.31 L388.50,212.61 L387.50,210.89 L386.50,209.17 L385.50,207.44 L384.50,205.70 L383.50,203.95 L382.50,202.19 L381.50,200.43 L380.50,198.67 L379.50,196.90 L378.50,195.13 L377.50,193.35 L376.50,191.58 L375.50,189.80 L374.50,188.03 L373.50,186.25 L372.50,184.48 L371.50,182.70 L370.50,180.93 L369.50,179.17 L368.50,177.40 L367.50,175.64 L366.50,173.88 L365.50,172.13 L364.50,170.38 L363.50,168.64 L362.50,166.90 L361.50,165.17 L360.50,163.45 L359.50,161.74 L358.50,160.03 L357.50,158.33 L356.50,156.65 L355.50,154.97 L354.50,153.30 L353.50,151.65 L352.50,150.00 L351.50,148.37 L350.50,146.75 L349.50,145.14 L348.50,143.55 L347.50,141.97 L346.50,140.41 L345.50,138.86 L344.50,137.34 L343.50,135.84 L342.50,134.36 L341.50,132.91 L340.50,131.49 L339.50,130.10 L338.50,128.73 L337.50,127.41 L336.50,126.11 L335.50,124.85 L334.50,123.63 L333.50,122.46 L332.50,121.32 L331.50,120.23 L330.50,119.18 L329.50,118.18 L328.50,117.22 L327.50,116.31 L326.50,115.44 L325.50,114.61 L324.50,113.82 L323.50,113.07 L322.50,112.36 L321.50,111.68 L320.50,111.04 L319.50,110.43 L318.50,109.85 L317.50,109.31 L316.50,108.80 L315.50,108.32 L314.50,107.87 L313.50,107.46 L312.50,107.07 L311.50,106.71 L310.50,106.37 L309.50,106.07 L308.50,105.79 L307.50,105.54 L306.50,105.31 L305.50,105.11 L304.50,104.93 L303.50,104.78 L302.50,104.64 L301.50,104.53 L300.50,104.44 L299.50,104.38 L298.50,104.33 L297.50,104.30 L296.50,104.29 L295.50,104.29 L294.50,104.32 L293.50,104.36 L292.50,104.41 L291.50,104.49 L290.50,104.58 L289.50,104.68 L288.50,104.80 L287.50,104.93 L286.50,105.08 L285.50,105.24 L284.50,105.42 L283.50,105.61 L282.50,105.81 L281.50,106.03 L280.50,106.26 L279.50,106.50 L278.50,106.75 L277.50,107.01 L276.50,107.29 L275.50,107.57 L274.50,107.87 L273.50,108.17 L272.50,108.49 L271.50,108.81 L270.50,109.15 L269.50,109.49 L268.50,109.84 L267.50,110.20 L266.50,110.57 L265.50,110.95 L264.50,111.33 L263.50,111.72 L262.50,112.12 L261.50,112.52 L260.50,112.93 L259.50,113.34 L258.50,113.76 L257.50,114.18 L256.50,114.61 L255.50,115.05 L254.50,115.48 L253.50,115.92 L252.50,116.37 L251.50,116.81 L250.50,117.26 L249.50,117.71 L248.50,118.17 L247.50,118.62 L246.50,119.08 L245.50,119.54 L244.50,120.00 L243.50,120.45 L242.50,120.91 L241.50,121.37 L240.50,121.83 L239.50,122.29 L238.50,122.74 L237.50,123.20 L236.50,123.65 L235.50,124.10 L234.50,124.54 L233.50,124.99 L232.50,125.43 L231.50,125.87 L230.50,126.31 L229.50,126.74 L228.50,127.17 L227.50,127.61 L226.50,128.03 L225.50,128.46 L224.50,128.89 L223.50,129.31 L222.50,129.73 L221.50,130.15 L220.50,130.57 L219.50,130.99 L218.50,131.40 L217.50,131.82 L216.50,132.23 L215.50,132.65 L214.50,133.06 L213.50,133.47 L212.50,133.89 L211.50,134.30 L210.50,134.71 L209.50,135.12 L208.50,135.53 L207.50,135.94 L206.50,136.35 L205.50,136.77 L204.50,137.18 L203.50,137.59 L202.50,138.00 L201.50,138.42 L200.50,138.83 L199.50,139.25 L198.50,139.66 L197.50,140.08 L196.50,140.50 L195.50,140.92 L194.50,141.34 L193.50,141.77 L192.50,142.19 L191.50,142.62 L190.50,143.04 L189.50,143.47 L188.50,143.91 L187.50,144.34 L186.50,144.78 L185.50,145.22 L184.50,145.66 L183.50,146.10 L182.50,146.55 L181.50,147.00 L180.50,147.45 L179.50,147.90 L178.50,148.36 L177.50,148.82 L176.50,149.29 L175.50,149.75 L174.50,150.23 L173.50,150.70 L172.50,151.18 L171.50,151.66 L170.50,152.15 L169.50,152.64 L168.50,153.13 L167.50,153.63 L166.50,154.13 L165.50,154.64 L164.50,155.15 L163.50,155.66 L162.50,156.18 L161.50,156.71 L160.50,157.24 L159.50,157.78 L158.50,158.32 L157.50,158.86 L156.50,159.41 L155.50,159.97 L154.50,160.53 L153.50,161.10 L152.50,161.67 L151.50,162.25 L150.50,162.83 L149.50,163.42 L148.50,164.02 L147.50,164.62 L146.50,165.23 L145.50,165.85 L144.50,166.47 L143.50,167.10 L142.50,167.74 L141.50,168.40 L140.50,169.07 L139.50,169.76 L138.50,170.48 L137.50,171.22 L136.50,171.99 L135.50,172.79 L134.50,173.63 L133.50,174.50 L132.50,175.42 L131.50,176.38 L130.50,177.38 L129.50,178.43 L128.50,179.52 L127.50,180.65 L126.50,181.81 L125.50,182.99 L124.50,184.20 L123.50,185.43 L122.50,186.68 L121.50,187.94 L120.50,189.21 L119.50,190.48 L118.50,191.75 L117.50,193.02 L116.50,194.28 L115.50,195.53 L114.50,196.76 L113.50,197.98 L112.50,199.17 L111.50,200.34 L110.50,201.49 L109.50,202.63 L108.50,203.74 L107.50,204.85 L106.50,205.93 L105.50,207.01 L104.50,208.08 L103.50,209.13 L102.50,210.19 L101.50,211.23 L100.50,212.27 L99.50,213.31 L98.50,214.35 L97.50,215.39 L96.50,216.43 L95.50,217.48 L94.50,218.53 L93.50,219.59 L92.50,220.66 L91.50,221.74 L90.50,222.83 L89.50,223.93 L88.50,225.05 L87.50,226.19 L86.50,227.34 L85.50,228.50 L84.50,229.67 L83.50,230.83 L82.50,232.00 L81.50,233.16 L80.50,234.30 L79.50,235.43 L78.50,236.54 L77.50,237.62 L76.50,238.68 L75.50,239.72 L74.50,240.74 L73.50,241.75 L72.50,242.74 L71.50,243.71 L70.50,244.68 L69.50,245.64 L68.50,246.59 L67.50,247.54 L66.50,248.49 L65.50,249.43 L64.50,250.39 L63.50,251.35 L62.50,252.31 L61.50,253.29 L60.50,254.28 L59.50,255.28 L58.50,256.30 L57.50,257.34 L56.50,258.40 Z" fill="rgb(0,128,0)" fill-opacity="0.4" stroke="rgb(0,128,0)" stroke-opacity="0.4" stroke-width="1"/>
<path d="M58.1,219.0V235.0M60.0,226.0V243.0M65.2,228.2V244.2M64.5,219.4V235.4M58.1,203.0V217.8M62.4,200.2V215.0M64.5,211.5V226.3M68.0,195.9V210.7M73.0,203.0V217.8M70.2,207.2V222.0M78.7,201.6V216.4M81.5,205.8V220.6M99.9,169.7V184.5M112.6,169.7V184.5M122.5,169.7V184.5M125.4,174.0V188.8M129.6,182.5V197.3M153.0,170.7V188.7M151.6,167.8V181.8M203.6,115.0V128.0M207.2,113.6V126.6M132.8,145.5V158.5M136.4,141.9V154.9M138.5,148.3V161.3M142.7,145.5V158.5M145.6,149.7V162.7M147.7,151.1V164.1M134.2,156.8V169.8M144.2,141.9V154.9M132.1,151.9V164.9M99.2,159.8V175.4M90.0,171.1V185.5M95.6,167.5V181.9M106.3,166.8V181.2M111.9,166.1V180.5M114.0,166.1V180.5M118.3,164.0V178.4M121.8,166.1V180.5M123.3,149.8V164.2M126.8,154.1V168.5M128.2,149.8V164.2M129.6,158.3V172.7M132.5,147.7V162.1M134.6,142.0V156.4M127.5,166.1V180.5M136.2,148.8V162.4M144.7,143.8V157.4M147.5,146.7V160.3M148.2,153.0V166.6M132.7,158.7V172.3M134.1,160.8V174.4M210.6,112.2V124.6M213.5,117.8V130.2M214.2,122.1V134.5M218.4,121.4V133.8M217.7,124.9V137.3M220.5,115.0V127.4M222.7,105.1V117.5M226.2,103.7V116.1M224.8,108.6V121.0M226.9,109.3V121.7M230.4,99.4V111.8M228.3,90.9V103.3M234.0,111.5V123.9M234.0,102.3V114.7M237.5,91.6V104.0M240.4,98.7V111.1M241.1,103.0V115.4M244.6,95.2V107.6M246.7,103.7V116.1M247.4,107.9V120.3M248.8,95.2V107.6M253.8,95.2V107.6M256.6,90.9V103.3M264.4,97.3V109.7M264.4,100.8V113.2M264.4,92.3V104.7M275.0,90.9V103.3M243.9,90.2V102.6M238.9,79.1V91.1M250.3,74.9V86.9M249.6,88.6V100.6M253.1,84.4V96.4M258.8,71.6V83.6M257.3,84.4V96.4M260.9,78.0V90.0M263.0,82.9V94.9M265.8,86.5V98.5M268.7,60.3V72.3M268.0,64.5V76.5M270.1,70.2V82.2M272.2,82.2V94.2M275.0,75.9V87.9M277.2,78.0V90.0M276.5,85.1V97.1M254.5,91.4V103.4M259.5,89.3V101.3M275.0,89.3V101.3M266.9,23.2V34.2M336.6,22.0V33.0M270.7,59.6V71.6M272.8,79.4V91.4M272.1,85.8V97.8M279.9,80.2V92.2M280.6,86.5V98.5M283.5,83.7V95.7M284.9,87.9V99.9M282.0,97.8V109.8M286.3,79.4V91.4M287.7,70.2V82.2M289.1,89.4V101.4M291.2,74.5V86.5M291.9,83.0V95.0M293.4,92.9V104.9M295.5,85.1V97.1M294.8,97.8V109.8M297.6,89.4V101.4M299.0,73.8V85.8M300.4,78.0V90.0M301.9,87.9V99.9M304.0,68.8V80.8M304.0,79.4V91.4M306.1,83.7V95.7M308.2,91.5V103.5M310.4,73.1V85.1M311.1,80.2V92.2M312.5,90.1V102.1M313.2,96.4V108.4M314.6,75.9V87.9M316.0,68.1V80.1M317.4,81.6V93.6M318.8,78.0V90.0M319.6,68.8V80.8M321.7,90.1V102.1M323.1,92.2V104.2M324.5,85.8V97.8M326.6,73.8V85.8M328.8,84.4V96.4M330.2,81.6V93.6M329.5,76.6V88.6M338.0,57.5V69.5M340.1,61.7V73.7M341.5,66.7V78.7M338.7,78.0V90.0M342.9,73.8V85.8M346.5,70.2V82.2M344.3,81.6V93.6M345.0,86.5V98.5M347.2,92.9V104.9M349.9,72.5V84.5M349.2,89.5V101.5M352.0,100.1V112.1M353.5,85.9V97.9M354.9,90.2V102.2M356.3,81.0V93.0M359.1,83.1V95.1M361.9,78.9V90.9M362.7,87.4V99.4M365.5,95.9V107.9M367.6,98.0V110.0M369.7,82.4V94.4M370.4,100.1V112.1M373.3,87.4V99.4M372.6,92.3V104.3M374.7,107.2V119.2M378.9,102.9V114.9M378.2,109.3V121.3M385.3,94.4V106.4M382.5,112.8V124.8M389.6,102.9V114.9M388.8,112.8V124.8M398.1,88.1V100.1M400.9,105.8V117.8M396.6,112.8V124.8M403.7,100.8V112.8M406.5,97.3V109.3M405.8,104.4V116.4M403.0,107.9V119.9M410.8,110.7V122.7M412.2,106.5V118.5M416.5,102.2V114.2M418.6,112.8V124.8M408.7,113.6V125.6M376.1,112.8V124.8M376.1,115.2V127.2M383.2,116.6V128.6M385.3,128.0V140.0M387.4,129.4V141.4M386.7,132.9V144.9M391.7,116.6V128.6M393.1,123.7V135.7M393.8,130.8V142.8M395.9,123.7V135.7M399.5,112.4V124.4M401.6,120.2V132.2M413.6,121.6V133.6M415.0,124.4V136.4M415.8,132.2V144.2M417.2,123.0V135.0M441.2,103.0V114.0M442.7,105.1V116.1M444.8,110.7V121.7M424.2,110.0V121.0M421.4,115.7V126.7M425.7,118.5V129.5M430.6,121.4V132.4M432.7,112.9V123.9M434.9,113.6V124.6M436.3,116.4V127.4M439.1,116.4V127.4M429.9,125.6V136.6M432.0,124.9V135.9M437.7,123.5V134.5M438.4,128.4V139.4M440.5,120.7V131.7M443.4,119.9V130.9M446.9,122.1V133.1M449.7,128.4V139.4M451.9,124.9V135.9M452.6,122.1V133.1M454.0,128.4V139.4M456.1,114.3V125.3M458.2,117.1V128.1M461.1,115.7V126.7M462.5,112.9V123.9M460.4,131.3V142.3M462.5,134.8V145.8M464.6,126.3V137.3M468.8,136.9V147.9M473.1,124.2V135.2M475.2,130.6V141.6M477.3,124.2V135.2M479.5,128.4V139.4M481.6,132.0V143.0M481.6,136.2V147.2M488.0,116.4V127.4M489.4,131.3V142.3M492.9,138.3V149.3M496.5,127.7V138.7M498.6,122.8V133.8M422.8,132.7V143.7M427.1,132.0V143.0M446.9,135.5V146.5M456.1,137.6V148.6M422.8,135.9V146.9M426.4,137.3V148.3M445.5,138.7V149.7M449.7,130.9V141.9M455.4,140.8V151.8M466.0,140.1V151.1M466.7,147.9V158.9M471.0,145.1V156.1M474.5,140.1V151.1M478.8,145.1V156.1M480.2,140.8V151.8M484.4,150.7V161.7M486.5,152.9V163.9M485.4,162.4V175.0M489.4,150.0V161.0M491.5,154.3V165.3M494.3,157.1V168.1M493.6,140.8V151.8M497.9,148.6V159.6M506.2,79.0V91.0M504.7,97.4V109.4M504.0,105.2V117.2M509.7,107.3V119.3M510.4,114.4V126.4M513.9,118.6V130.6M515.4,127.8V139.8M517.5,117.2V129.2M520.3,109.4V121.4M521.7,121.5V133.5M523.1,105.2V117.2M523.8,113.7V125.7M526.0,117.9V129.9M527.4,122.2V134.2M528.8,115.8V127.8M529.5,102.4V114.4M531.6,84.0V96.0M533.1,117.2V129.2M534.5,103.8V115.8M536.6,95.3V107.3M539.4,104.5V116.5M540.8,89.6V101.6M541.5,84.7V96.7M501.2,118.6V130.6M508.3,71.7V83.5M535.6,71.9V84.7M537.6,78.4V90.4M507.3,3.3V15.7M477.8,129.4V140.4M500.5,139.3V150.3M502.6,139.3V150.3M511.8,132.2V143.2M513.2,130.1V141.1M516.8,140.7V151.7M518.9,143.6V154.6M222.9,100.9V112.9M227.2,106.6V118.6M216.5,121.4V133.4M57.7,195.2V210.2M58.2,204.8V219.8M61.4,204.3V219.3M63.0,208.5V223.5M72.1,207.5V222.5M75.8,194.7V209.7M76.8,203.2V218.2M64.1,195.2V210.2M103.2,168.9V182.9M307.2,110.7V122.7M154.8,118.4V135.8M159.0,135.7V148.3M160.6,141.0V153.6M155.8,144.7V157.3M162.7,145.2V157.8M157.4,148.4V161.0M167.0,144.7V157.3M169.6,139.4V152.0M171.2,147.4V160.0M163.8,152.2V164.8M164.9,156.4V169.0M172.8,129.9V142.5M175.5,132.5V145.1M174.4,136.7V149.3M178.7,129.3V141.9M180.8,125.6V138.2M179.2,133.6V146.2M181.9,133.0V145.6M180.3,140.5V153.1M184.0,142.1V154.7M185.0,128.8V141.4M186.6,134.1V146.7M188.2,138.9V151.5M189.8,130.9V143.5M191.9,127.2V139.8M192.5,132.0V144.6M194.6,129.3V141.9M196.2,145.2V157.8M198.3,130.4V143.0M199.9,126.1V138.7M202.0,129.3V141.9M205.2,126.7V139.3M207.9,128.8V141.4M197.3,120.3V132.9M202.0,120.8V133.4M207.3,121.4V134.0M95.5,172.1V186.5M97.7,174.6V189.0M96.4,177.2V191.6M101.5,178.4V192.8M105.7,175.0V189.4M110.0,178.4V192.8M107.9,179.7V194.1M86.2,177.6V192.0M93.0,183.1V197.5M84.1,184.8V199.2M79.8,186.9V201.3M88.3,186.9V201.3M94.3,187.4V201.8M102.3,188.6V203.0M84.9,189.9V204.3M87.9,192.9V207.3M77.7,192.9V207.3M94.3,195.4V209.8M79.0,200.1V214.5M116.8,188.1V201.1M116.8,192.7V205.7M119.3,173.3V187.7M115.9,180.1V194.5M113.4,175.9V190.3" stroke="#2020ff" stroke-opacity="0.8" stroke-width="0.8" fill="none"/>
<path d="M56.3,219.0H59.9M56.3,235.0H59.9M58.2,226.0H61.8M58.2,243.0H61.8M63.4,228.2H67.0M63.4,244.2H67.0M62.7,219.4H66.3M62.7,235.4H66.3M56.3,203.0H59.9M56.3,217.8H59.9M60.6,200.2H64.2M60.6,215.0H64.2M62.7,211.5H66.3M62.7,226.3H66.3M66.2,195.9H69.8M66.2,210.7H69.8M71.2,203.0H74.8M71.2,217.8H74.8M68.4,207.2H72.0M68.4,222.0H72.0M76.9,201.6H80.5M76.9,216.4H80.5M79.7,205.8H83.3M79.7,220.6H83.3M98.1,169.7H101.7M98.1,184.5H101.7M110.8,169.7H114.4M110.8,184.5H114.4M120.7,169.7H124.3M120.7,184.5H124.3M123.6,174.0H127.2M123.6,188.8H127.2M127.8,182.5H131.4M127.8,197.3H131.4M151.2,170.7H154.8M151.2,188.7H154.8M149.8,167.8H153.4M149.8,181.8H153.4M201.8,115.0H205.4M201.8,128.0H205.4M205.4,113.6H209.0M205.4,126.6H209.0M131.0,145.5H134.6M131.0,158.5H134.6M134.6,141.9H138.2M134.6,154.9H138.2M136.7,148.3H140.3M136.7,161.3H140.3M140.9,145.5H144.5M140.9,158.5H144.5M143.8,149.7H147.4M143.8,162.7H147.4M145.9,151.1H149.5M145.9,164.1H149.5M132.4,156.8H136.0M132.4,169.8H136.0M142.4,141.9H146.0M142.4,154.9H146.0M130.3,151.9H133.9M130.3,164.9H133.9M97.4,159.8H101.0M97.4,175.4H101.0M88.2,171.1H91.8M88.2,185.5H91.8M93.8,167.5H97.4M93.8,181.9H97.4M104.5,166.8H108.1M104.5,181.2H108.1M110.1,166.1H113.7M110.1,180.5H113.7M112.2,166.1H115.8M112.2,180.5H115.8M116.5,164.0H120.1M116.5,178.4H120.1M120.0,166.1H123.6M120.0,180.5H123.6M121.5,149.8H125.1M121.5,164.2H125.1M125.0,154.1H128.6M125.0,168.5H128.6M126.4,149.8H130.0M126.4,164.2H130.0M127.8,158.3H131.4M127.8,172.7H131.4M130.7,147.7H134.3M130.7,162.1H134.3M132.8,142.0H136.4M132.8,156.4H136.4M125.7,166.1H129.3M125.7,180.5H129.3M134.4,148.8H138.0M134.4,162.4H138.0M142.9,143.8H146.5M142.9,157.4H146.5M145.7,146.7H149.3M145.7,160.3H149.3M146.4,153.0H150.0M146.4,166.6H150.0M130.9,158.7H134.5M130.9,172.3H134.5M132.3,160.8H135.9M132.3,174.4H135.9M208.8,112.2H212.4M208.8,124.6H212.4M211.7,117.8H215.3M211.7,130.2H215.3M212.4,122.1H216.0M212.4,134.5H216.0M216.6,121.4H220.2M216.6,133.8H220.2M215.9,124.9H219.5M215.9,137.3H219.5M218.7,115.0H222.3M218.7,127.4H222.3M220.9,105.1H224.5M220.9,117.5H224.5M224.4,103.7H228.0M224.4,116.1H228.0M223.0,108.6H226.6M223.0,121.0H226.6M225.1,109.3H228.7M225.1,121.7H228.7M228.6,99.4H232.2M228.6,111.8H232.2M226.5,90.9H230.1M226.5,103.3H230.1M232.2,111.5H235.8M232.2,123.9H235.8M232.2,102.3H235.8M232.2,114.7H235.8M235.7,91.6H239.3M235.7,104.0H239.3M238.6,98.7H242.2M238.6,111.1H242.2M239.3,103.0H242.9M239.3,115.4H242.9M242.8,95.2H246.4M242.8,107.6H246.4M244.9,103.7H248.5M244.9,116.1H248.5M245.6,107.9H249.2M245.6,120.3H249.2M247.0,95.2H250.6M247.0,107.6H250.6M252.0,95.2H255.6M252.0,107.6H255.6M254.8,90.9H258.4M254.8,103.3H258.4M262.6,97.3H266.2M262.6,109.7H266.2M262.6,100.8H266.2M262.6,113.2H266.2M262.6,92.3H266.2M262.6,104.7H266.2M273.2,90.9H276.8M273.2,103.3H276.8M242.1,90.2H245.7M242.1,102.6H245.7M237.1,79.1H240.7M237.1,91.1H240.7M248.5,74.9H252.1M248.5,86.9H252.1M247.8,88.6H251.4M247.8,100.6H251.4M251.3,84.4H254.9M251.3,96.4H254.9M257.0,71.6H260.6M257.0,83.6H260.6M255.5,84.4H259.1M255.5,96.4H259.1M259.1,78.0H262.7M259.1,90.0H262.7M261.2,82.9H264.8M261.2,94.9H264.8M264.0,86.5H267.6M264.0,98.5H267.6M266.9,60.3H270.5M266.9,72.3H270.5M266.2,64.5H269.8M266.2,76.5H269.8M268.3,70.2H271.9M268.3,82.2H271.9M270.4,82.2H274.0M270.4,94.2H274.0M273.2,75.9H276.8M273.2,87.9H276.8M275.4,78.0H279.0M275.4,90.0H279.0M274.7,85.1H278.3M274.7,97.1H278.3M252.7,91.4H256.3M252.7,103.4H256.3M257.7,89.3H261.3M257.7,101.3H261.3M273.2,89.3H276.8M273.2,101.3H276.8M265.1,23.2H268.7M265.1,34.2H268.7M334.8,22.0H338.4M334.8,33.0H338.4M268.9,59.6H272.5M268.9,71.6H272.5M271.0,79.4H274.6M271.0,91.4H274.6M270.3,85.8H273.9M270.3,97.8H273.9M278.1,80.2H281.7M278.1,92.2H281.7M278.8,86.5H282.4M278.8,98.5H282.4M281.7,83.7H285.3M281.7,95.7H285.3M283.1,87.9H286.7M283.1,99.9H286.7M280.2,97.8H283.8M280.2,109.8H283.8M284.5,79.4H288.1M284.5,91.4H288.1M285.9,70.2H289.5M285.9,82.2H289.5M287.3,89.4H290.9M287.3,101.4H290.9M289.4,74.5H293.0M289.4,86.5H293.0M290.1,83.0H293.7M290.1,95.0H293.7M291.6,92.9H295.2M291.6,104.9H295.2M293.7,85.1H297.3M293.7,97.1H297.3M293.0,97.8H296.6M293.0,109.8H296.6M295.8,89.4H299.4M295.8,101.4H299.4M297.2,73.8H300.8M297.2,85.8H300.8M298.6,78.0H302.2M298.6,90.0H302.2M300.1,87.9H303.7M300.1,99.9H303.7M302.2,68.8H305.8M302.2,80.8H305.8M302.2,79.4H305.8M302.2,91.4H305.8M304.3,83.7H307.9M304.3,95.7H307.9M306.4,91.5H310.0M306.4,103.5H310.0M308.6,73.1H312.2M308.6,85.1H312.2M309.3,80.2H312.9M309.3,92.2H312.9M310.7,90.1H314.3M310.7,102.1H314.3M311.4,96.4H315.0M311.4,108.4H315.0M312.8,75.9H316.4M312.8,87.9H316.4M314.2,68.1H317.8M314.2,80.1H317.8M315.6,81.6H319.2M315.6,93.6H319.2M317.0,78.0H320.6M317.0,90.0H320.6M317.8,68.8H321.4M317.8,80.8H321.4M319.9,90.1H323.5M319.9,102.1H323.5M321.3,92.2H324.9M321.3,104.2H324.9M322.7,85.8H326.3M322.7,97.8H326.3M324.8,73.8H328.4M324.8,85.8H328.4M327.0,84.4H330.6M327.0,96.4H330.6M328.4,81.6H332.0M328.4,93.6H332.0M327.7,76.6H331.3M327.7,88.6H331.3M336.2,57.5H339.8M336.2,69.5H339.8M338.3,61.7H341.9M338.3,73.7H341.9M339.7,66.7H343.3M339.7,78.7H343.3M336.9,78.0H340.5M336.9,90.0H340.5M341.1,73.8H344.7M341.1,85.8H344.7M344.7,70.2H348.3M344.7,82.2H348.3M342.5,81.6H346.1M342.5,93.6H346.1M343.2,86.5H346.8M343.2,98.5H346.8M345.4,92.9H349.0M345.4,104.9H349.0M348.1,72.5H351.7M348.1,84.5H351.7M347.4,89.5H351.0M347.4,101.5H351.0M350.2,100.1H353.8M350.2,112.1H353.8M351.7,85.9H355.3M351.7,97.9H355.3M353.1,90.2H356.7M353.1,102.2H356.7M354.5,81.0H358.1M354.5,93.0H358.1M357.3,83.1H360.9M357.3,95.1H360.9M360.1,78.9H363.7M360.1,90.9H363.7M360.9,87.4H364.5M360.9,99.4H364.5M363.7,95.9H367.3M363.7,107.9H367.3M365.8,98.0H369.4M365.8,110.0H369.4M367.9,82.4H371.5M367.9,94.4H371.5M368.6,100.1H372.2M368.6,112.1H372.2M371.5,87.4H375.1M371.5,99.4H375.1M370.8,92.3H374.4M370.8,104.3H374.4M372.9,107.2H376.5M372.9,119.2H376.5M377.1,102.9H380.7M377.1,114.9H380.7M376.4,109.3H380.0M376.4,121.3H380.0M383.5,94.4H387.1M383.5,106.4H387.1M380.7,112.8H384.3M380.7,124.8H384.3M387.8,102.9H391.4M387.8,114.9H391.4M387.0,112.8H390.6M387.0,124.8H390.6M396.3,88.1H399.9M396.3,100.1H399.9M399.1,105.8H402.7M399.1,117.8H402.7M394.8,112.8H398.4M394.8,124.8H398.4M401.9,100.8H405.5M401.9,112.8H405.5M404.7,97.3H408.3M404.7,109.3H408.3M404.0,104.4H407.6M404.0,116.4H407.6M401.2,107.9H404.8M401.2,119.9H404.8M409.0,110.7H412.6M409.0,122.7H412.6M410.4,106.5H414.0M410.4,118.5H414.0M414.7,102.2H418.3M414.7,114.2H418.3M416.8,112.8H420.4M416.8,124.8H420.4M406.9,113.6H410.5M406.9,125.6H410.5M374.3,112.8H377.9M374.3,124.8H377.9M374.3,115.2H377.9M374.3,127.2H377.9M381.4,116.6H385.0M381.4,128.6H385.0M383.5,128.0H387.1M383.5,140.0H387.1M385.6,129.4H389.2M385.6,141.4H389.2M384.9,132.9H388.5M384.9,144.9H388.5M389.9,116.6H393.5M389.9,128.6H393.5M391.3,123.7H394.9M391.3,135.7H394.9M392.0,130.8H395.6M392.0,142.8H395.6M394.1,123.7H397.7M394.1,135.7H397.7M397.7,112.4H401.3M397.7,124.4H401.3M399.8,120.2H403.4M399.8,132.2H403.4M411.8,121.6H415.4M411.8,133.6H415.4M413.2,124.4H416.8M413.2,136.4H416.8M414.0,132.2H417.6M414.0,144.2H417.6M415.4,123.0H419.0M415.4,135.0H419.0M439.4,103.0H443.0M439.4,114.0H443.0M440.9,105.1H444.5M440.9,116.1H444.5M443.0,110.7H446.6M443.0,121.7H446.6M422.4,110.0H426.0M422.4,121.0H426.0M419.6,115.7H423.2M419.6,126.7H423.2M423.9,118.5H427.5M423.9,129.5H427.5M428.8,121.4H432.4M428.8,132.4H432.4M430.9,112.9H434.5M430.9,123.9H434.5M433.1,113.6H436.7M433.1,124.6H436.7M434.5,116.4H438.1M434.5,127.4H438.1M437.3,116.4H440.9M437.3,127.4H440.9M428.1,125.6H431.7M428.1,136.6H431.7M430.2,124.9H433.8M430.2,135.9H433.8M435.9,123.5H439.5M435.9,134.5H439.5M436.6,128.4H440.2M436.6,139.4H440.2M438.7,120.7H442.3M438.7,131.7H442.3M441.6,119.9H445.2M441.6,130.9H445.2M445.1,122.1H448.7M445.1,133.1H448.7M447.9,128.4H451.5M447.9,139.4H451.5M450.1,124.9H453.7M450.1,135.9H453.7M450.8,122.1H454.4M450.8,133.1H454.4M452.2,128.4H455.8M452.2,139.4H455.8M454.3,114.3H457.9M454.3,125.3H457.9M456.4,117.1H460.0M456.4,128.1H460.0M459.3,115.7H462.9M459.3,126.7H462.9M460.7,112.9H464.3M460.7,123.9H464.3M458.6,131.3H462.2M458.6,142.3H462.2M460.7,134.8H464.3M460.7,145.8H464.3M462.8,126.3H466.4M462.8,137.3H466.4M467.0,136.9H470.6M467.0,147.9H470.6M471.3,124.2H474.9M471.3,135.2H474.9M473.4,130.6H477.0M473.4,141.6H477.0M475.5,124.2H479.1M475.5,135.2H479.1M477.7,128.4H481.3M477.7,139.4H481.3M479.8,132.0H483.4M479.8,143.0H483.4M479.8,136.2H483.4M479.8,147.2H483.4M486.2,116.4H489.8M486.2,127.4H489.8M487.6,131.3H491.2M487.6,142.3H491.2M491.1,138.3H494.7M491.1,149.3H494.7M494.7,127.7H498.3M494.7,138.7H498.3M496.8,122.8H500.4M496.8,133.8H500.4M421.0,132.7H424.6M421.0,143.7H424.6M425.3,132.0H428.9M425.3,143.0H428.9M445.1,135.5H448.7M445.1,146.5H448.7M454.3,137.6H457.9M454.3,148.6H457.9M421.0,135.9H424.6M421.0,146.9H424.6M424.6,137.3H428.2M424.6,148.3H428.2M443.7,138.7H447.3M443.7,149.7H447.3M447.9,130.9H451.5M447.9,141.9H451.5M453.6,140.8H457.2M453.6,151.8H457.2M464.2,140.1H467.8M464.2,151.1H467.8M464.9,147.9H468.5M464.9,158.9H468.5M469.2,145.1H472.8M469.2,156.1H472.8M472.7,140.1H476.3M472.7,151.1H476.3M477.0,145.1H480.6M477.0,156.1H480.6M478.4,140.8H482.0M478.4,151.8H482.0M482.6,150.7H486.2M482.6,161.7H486.2M484.7,152.9H488.3M484.7,163.9H488.3M483.6,162.4H487.2M483.6,175.0H487.2M487.6,150.0H491.2M487.6,161.0H491.2M489.7,154.3H493.3M489.7,165.3H493.3M492.5,157.1H496.1M492.5,168.1H496.1M491.8,140.8H495.4M491.8,151.8H495.4M496.1,148.6H499.7M496.1,159.6H499.7M504.4,79.0H508.0M504.4,91.0H508.0M502.9,97.4H506.5M502.9,109.4H506.5M502.2,105.2H505.8M502.2,117.2H505.8M507.9,107.3H511.5M507.9,119.3H511.5M508.6,114.4H512.2M508.6,126.4H512.2M512.1,118.6H515.7M512.1,130.6H515.7M513.6,127.8H517.2M513.6,139.8H517.2M515.7,117.2H519.3M515.7,129.2H519.3M518.5,109.4H522.1M518.5,121.4H522.1M519.9,121.5H523.5M519.9,133.5H523.5M521.3,105.2H524.9M521.3,117.2H524.9M522.0,113.7H525.6M522.0,125.7H525.6M524.2,117.9H527.8M524.2,129.9H527.8M525.6,122.2H529.2M525.6,134.2H529.2M527.0,115.8H530.6M527.0,127.8H530.6M527.7,102.4H531.3M527.7,114.4H531.3M529.8,84.0H533.4M529.8,96.0H533.4M531.3,117.2H534.9M531.3,129.2H534.9M532.7,103.8H536.3M532.7,115.8H536.3M534.8,95.3H538.4M534.8,107.3H538.4M537.6,104.5H541.2M537.6,116.5H541.2M539.0,89.6H542.6M539.0,101.6H542.6M539.7,84.7H543.3M539.7,96.7H543.3M499.4,118.6H503.0M499.4,130.6H503.0M506.5,71.7H510.1M506.5,83.5H510.1M533.8,71.9H537.4M533.8,84.7H537.4M535.8,78.4H539.4M535.8,90.4H539.4M505.5,3.3H509.1M505.5,15.7H509.1M476.0,129.4H479.6M476.0,140.4H479.6M498.7,139.3H502.3M498.7,150.3H502.3M500.8,139.3H504.4M500.8,150.3H504.4M510.0,132.2H513.6M510.0,143.2H513.6M511.4,130.1H515.0M511.4,141.1H515.0M515.0,140.7H518.6M515.0,151.7H518.6M517.1,143.6H520.7M517.1,154.6H520.7M221.1,100.9H224.7M221.1,112.9H224.7M225.4,106.6H229.0M225.4,118.6H229.0M214.7,121.4H218.3M214.7,133.4H218.3M55.9,195.2H59.5M55.9,210.2H59.5M56.4,204.8H60.0M56.4,219.8H60.0M59.6,204.3H63.2M59.6,219.3H63.2M61.2,208.5H64.8M61.2,223.5H64.8M70.3,207.5H73.9M70.3,222.5H73.9M74.0,194.7H77.6M74.0,209.7H77.6M75.0,203.2H78.6M75.0,218.2H78.6M62.3,195.2H65.9M62.3,210.2H65.9M101.4,168.9H105.0M101.4,182.9H105.0M305.4,110.7H309.0M305.4,122.7H309.0M153.0,118.4H156.6M153.0,135.8H156.6M157.2,135.7H160.8M157.2,148.3H160.8M158.8,141.0H162.4M158.8,153.6H162.4M154.0,144.7H157.6M154.0,157.3H157.6M160.9,145.2H164.5M160.9,157.8H164.5M155.6,148.4H159.2M155.6,161.0H159.2M165.2,144.7H168.8M165.2,157.3H168.8M167.8,139.4H171.4M167.8,152.0H171.4M169.4,147.4H173.0M169.4,160.0H173.0M162.0,152.2H165.6M162.0,164.8H165.6M163.1,156.4H166.7M163.1,169.0H166.7M171.0,129.9H174.6M171.0,142.5H174.6M173.7,132.5H177.3M173.7,145.1H177.3M172.6,136.7H176.2M172.6,149.3H176.2M176.9,129.3H180.5M176.9,141.9H180.5M179.0,125.6H182.6M179.0,138.2H182.6M177.4,133.6H181.0M177.4,146.2H181.0M180.1,133.0H183.7M180.1,145.6H183.7M178.5,140.5H182.1M178.5,153.1H182.1M182.2,142.1H185.8M182.2,154.7H185.8M183.2,128.8H186.8M183.2,141.4H186.8M184.8,134.1H188.4M184.8,146.7H188.4M186.4,138.9H190.0M186.4,151.5H190.0M188.0,130.9H191.6M188.0,143.5H191.6M190.1,127.2H193.7M190.1,139.8H193.7M190.7,132.0H194.3M190.7,144.6H194.3M192.8,129.3H196.4M192.8,141.9H196.4M194.4,145.2H198.0M194.4,157.8H198.0M196.5,130.4H200.1M196.5,143.0H200.1M198.1,126.1H201.7M198.1,138.7H201.7M200.2,129.3H203.8M200.2,141.9H203.8M203.4,126.7H207.0M203.4,139.3H207.0M206.1,128.8H209.7M206.1,141.4H209.7M195.5,120.3H199.1M195.5,132.9H199.1M200.2,120.8H203.8M200.2,133.4H203.8M205.5,121.4H209.1M205.5,134.0H209.1M93.7,172.1H97.3M93.7,186.5H97.3M95.9,174.6H99.5M95.9,189.0H99.5M94.6,177.2H98.2M94.6,191.6H98.2M99.7,178.4H103.3M99.7,192.8H103.3M103.9,175.0H107.5M103.9,189.4H107.5M108.2,178.4H111.8M108.2,192.8H111.8M106.1,179.7H109.7M106.1,194.1H109.7M84.4,177.6H88.0M84.4,192.0H88.0M91.2,183.1H94.8M91.2,197.5H94.8M82.3,184.8H85.9M82.3,199.2H85.9M78.0,186.9H81.6M78.0,201.3H81.6M86.5,186.9H90.1M86.5,201.3H90.1M92.5,187.4H96.1M92.5,201.8H96.1M100.5,188.6H104.1M100.5,203.0H104.1M83.1,189.9H86.7M83.1,204.3H86.7M86.1,192.9H89.7M86.1,207.3H89.7M75.9,192.9H79.5M75.9,207.3H79.5M92.5,195.4H96.1M92.5,209.8H96.1M77.2,200.1H80.8M77.2,214.5H80.8M115.0,188.1H118.6M115.0,201.1H118.6M115.0,192.7H118.6M115.0,205.7H118.6M117.5,173.3H121.1M117.5,187.7H121.1M114.1,180.1H117.7M114.1,194.5H117.7M111.6,175.9H115.2M111.6,190.3H115.2" stroke="#0000ff" stroke-width="1.3" fill="none"/>
<g fill="#0000ff"><circle cx="58.1" cy="227.0" r="1.75"/><circle cx="60.0" cy="234.5" r="1.75"/><circle cx="65.2" cy="236.2" r="1.75"/><circle cx="64.5" cy="227.4" r="1.75"/><circle cx="58.1" cy="210.4" r="1.75"/><circle cx="62.4" cy="207.6" r="1.75"/><circle cx="64.5" cy="218.9" r="1.75"/><circle cx="68.0" cy="203.3" r="1.75"/><circle cx="73.0" cy="210.4" r="1.75"/><circle cx="70.2" cy="214.6" r="1.75"/><circle cx="78.7" cy="209.0" r="1.75"/><circle cx="81.5" cy="213.2" r="1.75"/><circle cx="99.9" cy="177.1" r="1.75"/><circle cx="112.6" cy="177.1" r="1.75"/><circle cx="122.5" cy="177.1" r="1.75"/><circle cx="125.4" cy="181.4" r="1.75"/><circle cx="129.6" cy="189.9" r="1.75"/><circle cx="153.0" cy="179.7" r="1.75"/><circle cx="151.6" cy="174.8" r="1.75"/><circle cx="203.6" cy="121.5" r="1.75"/><circle cx="207.2" cy="120.1" r="1.75"/><circle cx="132.8" cy="152.0" r="1.75"/><circle cx="136.4" cy="148.4" r="1.75"/><circle cx="138.5" cy="154.8" r="1.75"/><circle cx="142.7" cy="152.0" r="1.75"/><circle cx="145.6" cy="156.2" r="1.75"/><circle cx="147.7" cy="157.6" r="1.75"/><circle cx="134.2" cy="163.3" r="1.75"/><circle cx="144.2" cy="148.4" r="1.75"/><circle cx="132.1" cy="158.4" r="1.75"/><circle cx="99.2" cy="167.6" r="1.75"/><circle cx="90.0" cy="178.3" r="1.75"/><circle cx="95.6" cy="174.7" r="1.75"/><circle cx="106.3" cy="174.0" r="1.75"/><circle cx="111.9" cy="173.3" r="1.75"/><circle cx="114.0" cy="173.3" r="1.75"/><circle cx="118.3" cy="171.2" r="1.75"/><circle cx="121.8" cy="173.3" r="1.75"/><circle cx="123.3" cy="157.0" r="1.75"/><circle cx="126.8" cy="161.3" r="1.75"/><circle cx="128.2" cy="157.0" r="1.75"/><circle cx="129.6" cy="165.5" r="1.75"/><circle cx="132.5" cy="154.9" r="1.75"/><circle cx="134.6" cy="149.2" r="1.75"/><circle cx="127.5" cy="173.3" r="1.75"/><circle cx="136.2" cy="155.6" r="1.75"/><circle cx="144.7" cy="150.6" r="1.75"/><circle cx="147.5" cy="153.5" r="1.75"/><circle cx="148.2" cy="159.8" r="1.75"/><circle cx="132.7" cy="165.5" r="1.75"/><circle cx="134.1" cy="167.6" r="1.75"/><circle cx="210.6" cy="118.4" r="1.75"/><circle cx="213.5" cy="124.0" r="1.75"/><circle cx="214.2" cy="128.3" r="1.75"/><circle cx="218.4" cy="127.6" r="1.75"/><circle cx="217.7" cy="131.1" r="1.75"/><circle cx="220.5" cy="121.2" r="1.75"/><circle cx="222.7" cy="111.3" r="1.75"/><circle cx="226.2" cy="109.9" r="1.75"/><circle cx="224.8" cy="114.8" r="1.75"/><circle cx="226.9" cy="115.5" r="1.75"/><circle cx="230.4" cy="105.6" r="1.75"/><circle cx="228.3" cy="97.1" r="1.75"/><circle cx="234.0" cy="117.7" r="1.75"/><circle cx="234.0" cy="108.5" r="1.75"/><circle cx="237.5" cy="97.8" r="1.75"/><circle cx="240.4" cy="104.9" r="1.75"/><circle cx="241.1" cy="109.2" r="1.75"/><circle cx="244.6" cy="101.4" r="1.75"/><circle cx="246.7" cy="109.9" r="1.75"/><circle cx="247.4" cy="114.1" r="1.75"/><circle cx="248.8" cy="101.4" r="1.75"/><circle cx="253.8" cy="101.4" r="1.75"/><circle cx="256.6" cy="97.1" r="1.75"/><circle cx="264.4" cy="103.5" r="1.75"/><circle cx="264.4" cy="107.0" r="1.75"/><circle cx="264.4" cy="98.5" r="1.75"/><circle cx="275.0" cy="97.1" r="1.75"/><circle cx="243.9" cy="96.4" r="1.75"/><circle cx="238.9" cy="85.1" r="1.75"/><circle cx="250.3" cy="80.9" r="1.75"/><circle cx="249.6" cy="94.6" r="1.75"/><circle cx="253.1" cy="90.4" r="1.75"/><circle cx="258.8" cy="77.6" r="1.75"/><circle cx="257.3" cy="90.4" r="1.75"/><circle cx="260.9" cy="84.0" r="1.75"/><circle cx="263.0" cy="88.9" r="1.75"/><circle cx="265.8" cy="92.5" r="1.75"/><circle cx="268.7" cy="66.3" r="1.75"/><circle cx="268.0" cy="70.5" r="1.75"/><circle cx="270.1" cy="76.2" r="1.75"/><circle cx="272.2" cy="88.2" r="1.75"/><circle cx="275.0" cy="81.9" r="1.75"/><circle cx="277.2" cy="84.0" r="1.75"/><circle cx="276.5" cy="91.1" r="1.75"/><circle cx="254.5" cy="97.4" r="1.75"/><circle cx="259.5" cy="95.3" r="1.75"/><circle cx="275.0" cy="95.3" r="1.75"/><circle cx="266.9" cy="28.7" r="1.75"/><circle cx="336.6" cy="27.5" r="1.75"/><circle cx="270.7" cy="65.6" r="1.75"/><circle cx="272.8" cy="85.4" r="1.75"/><circle cx="272.1" cy="91.8" r="1.75"/><circle cx="279.9" cy="86.2" r="1.75"/><circle cx="280.6" cy="92.5" r="1.75"/><circle cx="283.5" cy="89.7" r="1.75"/><circle cx="284.9" cy="93.9" r="1.75"/><circle cx="282.0" cy="103.8" r="1.75"/><circle cx="286.3" cy="85.4" r="1.75"/><circle cx="287.7" cy="76.2" r="1.75"/><circle cx="289.1" cy="95.4" r="1.75"/><circle cx="291.2" cy="80.5" r="1.75"/><circle cx="291.9" cy="89.0" r="1.75"/><circle cx="293.4" cy="98.9" r="1.75"/><circle cx="295.5" cy="91.1" r="1.75"/><circle cx="294.8" cy="103.8" r="1.75"/><circle cx="297.6" cy="95.4" r="1.75"/><circle cx="299.0" cy="79.8" r="1.75"/><circle cx="300.4" cy="84.0" r="1.75"/><circle cx="301.9" cy="93.9" r="1.75"/><circle cx="304.0" cy="74.8" r="1.75"/><circle cx="304.0" cy="85.4" r="1.75"/><circle cx="306.1" cy="89.7" r="1.75"/><circle cx="308.2" cy="97.5" r="1.75"/><circle cx="310.4" cy="79.1" r="1.75"/><circle cx="311.1" cy="86.2" r="1.75"/><circle cx="312.5" cy="96.1" r="1.75"/><circle cx="313.2" cy="102.4" r="1.75"/><circle cx="314.6" cy="81.9" r="1.75"/><circle cx="316.0" cy="74.1" r="1.75"/><circle cx="317.4" cy="87.6" r="1.75"/><circle cx="318.8" cy="84.0" r="1.75"/><circle cx="319.6" cy="74.8" r="1.75"/><circle cx="321.7" cy="96.1" r="1.75"/><circle cx="323.1" cy="98.2" r="1.75"/><circle cx="324.5" cy="91.8" r="1.75"/><circle cx="326.6" cy="79.8" r="1.75"/><circle cx="328.8" cy="90.4" r="1.75"/><circle cx="330.2" cy="87.6" r="1.75"/><circle cx="329.5" cy="82.6" r="1.75"/><circle cx="338.0" cy="63.5" r="1.75"/><circle cx="340.1" cy="67.7" r="1.75"/><circle cx="341.5" cy="72.7" r="1.75"/><circle cx="338.7" cy="84.0" r="1.75"/><circle cx="342.9" cy="79.8" r="1.75"/><circle cx="346.5" cy="76.2" r="1.75"/><circle cx="344.3" cy="87.6" r="1.75"/><circle cx="345.0" cy="92.5" r="1.75"/><circle cx="347.2" cy="98.9" r="1.75"/><circle cx="349.9" cy="78.5" r="1.75"/><circle cx="349.2" cy="95.5" r="1.75"/><circle cx="352.0" cy="106.1" r="1.75"/><circle cx="353.5" cy="91.9" r="1.75"/><circle cx="354.9" cy="96.2" r="1.75"/><circle cx="356.3" cy="87.0" r="1.75"/><circle cx="359.1" cy="89.1" r="1.75"/><circle cx="361.9" cy="84.9" r="1.75"/><circle cx="362.7" cy="93.4" r="1.75"/><circle cx="365.5" cy="101.9" r="1.75"/><circle cx="367.6" cy="104.0" r="1.75"/><circle cx="369.7" cy="88.4" r="1.75"/><circle cx="370.4" cy="106.1" r="1.75"/><circle cx="373.3" cy="93.4" r="1.75"/><circle cx="372.6" cy="98.3" r="1.75"/><circle cx="374.7" cy="113.2" r="1.75"/><circle cx="378.9" cy="108.9" r="1.75"/><circle cx="378.2" cy="115.3" r="1.75"/><circle cx="385.3" cy="100.4" r="1.75"/><circle cx="382.5" cy="118.8" r="1.75"/><circle cx="389.6" cy="108.9" r="1.75"/><circle cx="388.8" cy="118.8" r="1.75"/><circle cx="398.1" cy="94.1" r="1.75"/><circle cx="400.9" cy="111.8" r="1.75"/><circle cx="396.6" cy="118.8" r="1.75"/><circle cx="403.7" cy="106.8" r="1.75"/><circle cx="406.5" cy="103.3" r="1.75"/><circle cx="405.8" cy="110.4" r="1.75"/><circle cx="403.0" cy="113.9" r="1.75"/><circle cx="410.8" cy="116.7" r="1.75"/><circle cx="412.2" cy="112.5" r="1.75"/><circle cx="416.5" cy="108.2" r="1.75"/><circle cx="418.6" cy="118.8" r="1.75"/><circle cx="408.7" cy="119.6" r="1.75"/><circle cx="376.1" cy="118.8" r="1.75"/><circle cx="376.1" cy="121.2" r="1.75"/><circle cx="383.2" cy="122.6" r="1.75"/><circle cx="385.3" cy="134.0" r="1.75"/><circle cx="387.4" cy="135.4" r="1.75"/><circle cx="386.7" cy="138.9" r="1.75"/><circle cx="391.7" cy="122.6" r="1.75"/><circle cx="393.1" cy="129.7" r="1.75"/><circle cx="393.8" cy="136.8" r="1.75"/><circle cx="395.9" cy="129.7" r="1.75"/><circle cx="399.5" cy="118.4" r="1.75"/><circle cx="401.6" cy="126.2" r="1.75"/><circle cx="413.6" cy="127.6" r="1.75"/><circle cx="415.0" cy="130.4" r="1.75"/><circle cx="415.8" cy="138.2" r="1.75"/><circle cx="417.2" cy="129.0" r="1.75"/><circle cx="441.2" cy="108.5" r="1.75"/><circle cx="442.7" cy="110.6" r="1.75"/><circle cx="444.8" cy="116.2" r="1.75"/><circle cx="424.2" cy="115.5" r="1.75"/><circle cx="421.4" cy="121.2" r="1.75"/><circle cx="425.7" cy="124.0" r="1.75"/><circle cx="430.6" cy="126.9" r="1.75"/><circle cx="432.7" cy="118.4" r="1.75"/><circle cx="434.9" cy="119.1" r="1.75"/><circle cx="436.3" cy="121.9" r="1.75"/><circle cx="439.1" cy="121.9" r="1.75"/><circle cx="429.9" cy="131.1" r="1.75"/><circle cx="432.0" cy="130.4" r="1.75"/><circle cx="437.7" cy="129.0" r="1.75"/><circle cx="438.4" cy="133.9" r="1.75"/><circle cx="440.5" cy="126.2" r="1.75"/><circle cx="443.4" cy="125.4" r="1.75"/><circle cx="446.9" cy="127.6" r="1.75"/><circle cx="449.7" cy="133.9" r="1.75"/><circle cx="451.9" cy="130.4" r="1.75"/><circle cx="452.6" cy="127.6" r="1.75"/><circle cx="454.0" cy="133.9" r="1.75"/><circle cx="456.1" cy="119.8" r="1.75"/><circle cx="458.2" cy="122.6" r="1.75"/><circle cx="461.1" cy="121.2" r="1.75"/><circle cx="462.5" cy="118.4" r="1.75"/><circle cx="460.4" cy="136.8" r="1.75"/><circle cx="462.5" cy="140.3" r="1.75"/><circle cx="464.6" cy="131.8" r="1.75"/><circle cx="468.8" cy="142.4" r="1.75"/><circle cx="473.1" cy="129.7" r="1.75"/><circle cx="475.2" cy="136.1" r="1.75"/><circle cx="477.3" cy="129.7" r="1.75"/><circle cx="479.5" cy="133.9" r="1.75"/><circle cx="481.6" cy="137.5" r="1.75"/><circle cx="481.6" cy="141.7" r="1.75"/><circle cx="488.0" cy="121.9" r="1.75"/><circle cx="489.4" cy="136.8" r="1.75"/><circle cx="492.9" cy="143.8" r="1.75"/><circle cx="496.5" cy="133.2" r="1.75"/><circle cx="498.6" cy="128.3" r="1.75"/><circle cx="422.8" cy="138.2" r="1.75"/><circle cx="427.1" cy="137.5" r="1.75"/><circle cx="446.9" cy="141.0" r="1.75"/><circle cx="456.1" cy="143.1" r="1.75"/><circle cx="422.8" cy="141.4" r="1.75"/><circle cx="426.4" cy="142.8" r="1.75"/><circle cx="445.5" cy="144.2" r="1.75"/><circle cx="449.7" cy="136.4" r="1.75"/><circle cx="455.4" cy="146.3" r="1.75"/><circle cx="466.0" cy="145.6" r="1.75"/><circle cx="466.7" cy="153.4" r="1.75"/><circle cx="471.0" cy="150.6" r="1.75"/><circle cx="474.5" cy="145.6" r="1.75"/><circle cx="478.8" cy="150.6" r="1.75"/><circle cx="480.2" cy="146.3" r="1.75"/><circle cx="484.4" cy="156.2" r="1.75"/><circle cx="486.5" cy="158.4" r="1.75"/><circle cx="485.4" cy="168.7" r="1.75"/><circle cx="489.4" cy="155.5" r="1.75"/><circle cx="491.5" cy="159.8" r="1.75"/><circle cx="494.3" cy="162.6" r="1.75"/><circle cx="493.6" cy="146.3" r="1.75"/><circle cx="497.9" cy="154.1" r="1.75"/><circle cx="506.2" cy="85.0" r="1.75"/><circle cx="504.7" cy="103.4" r="1.75"/><circle cx="504.0" cy="111.2" r="1.75"/><circle cx="509.7" cy="113.3" r="1.75"/><circle cx="510.4" cy="120.4" r="1.75"/><circle cx="513.9" cy="124.6" r="1.75"/><circle cx="515.4" cy="133.8" r="1.75"/><circle cx="517.5" cy="123.2" r="1.75"/><circle cx="520.3" cy="115.4" r="1.75"/><circle cx="521.7" cy="127.5" r="1.75"/><circle cx="523.1" cy="111.2" r="1.75"/><circle cx="523.8" cy="119.7" r="1.75"/><circle cx="526.0" cy="123.9" r="1.75"/><circle cx="527.4" cy="128.2" r="1.75"/><circle cx="528.8" cy="121.8" r="1.75"/><circle cx="529.5" cy="108.4" r="1.75"/><circle cx="531.6" cy="90.0" r="1.75"/><circle cx="533.1" cy="123.2" r="1.75"/><circle cx="534.5" cy="109.8" r="1.75"/><circle cx="536.6" cy="101.3" r="1.75"/><circle cx="539.4" cy="110.5" r="1.75"/><circle cx="540.8" cy="95.6" r="1.75"/><circle cx="541.5" cy="90.7" r="1.75"/><circle cx="501.2" cy="124.6" r="1.75"/><circle cx="508.3" cy="77.6" r="1.75"/><circle cx="535.6" cy="78.3" r="1.75"/><circle cx="537.6" cy="84.4" r="1.75"/><circle cx="507.3" cy="9.5" r="1.75"/><circle cx="477.8" cy="134.9" r="1.75"/><circle cx="500.5" cy="144.8" r="1.75"/><circle cx="502.6" cy="144.8" r="1.75"/><circle cx="511.8" cy="137.7" r="1.75"/><circle cx="513.2" cy="135.6" r="1.75"/><circle cx="516.8" cy="146.2" r="1.75"/><circle cx="518.9" cy="149.1" r="1.75"/><circle cx="222.9" cy="106.9" r="1.75"/><circle cx="227.2" cy="112.6" r="1.75"/><circle cx="216.5" cy="127.4" r="1.75"/><circle cx="57.7" cy="202.7" r="1.75"/><circle cx="58.2" cy="212.3" r="1.75"/><circle cx="61.4" cy="211.8" r="1.75"/><circle cx="63.0" cy="216.0" r="1.75"/><circle cx="72.1" cy="215.0" r="1.75"/><circle cx="75.8" cy="202.2" r="1.75"/><circle cx="76.8" cy="210.7" r="1.75"/><circle cx="64.1" cy="202.7" r="1.75"/><circle cx="103.2" cy="175.9" r="1.75"/><circle cx="307.2" cy="116.7" r="1.75"/><circle cx="154.8" cy="127.1" r="1.75"/><circle cx="159.0" cy="142.0" r="1.75"/><circle cx="160.6" cy="147.3" r="1.75"/><circle cx="155.8" cy="151.0" r="1.75"/><circle cx="162.7" cy="151.5" r="1.75"/><circle cx="157.4" cy="154.7" r="1.75"/><circle cx="167.0" cy="151.0" r="1.75"/><circle cx="169.6" cy="145.7" r="1.75"/><circle cx="171.2" cy="153.7" r="1.75"/><circle cx="163.8" cy="158.5" r="1.75"/><circle cx="164.9" cy="162.7" r="1.75"/><circle cx="172.8" cy="136.2" r="1.75"/><circle cx="175.5" cy="138.8" r="1.75"/><circle cx="174.4" cy="143.0" r="1.75"/><circle cx="178.7" cy="135.6" r="1.75"/><circle cx="180.8" cy="131.9" r="1.75"/><circle cx="179.2" cy="139.9" r="1.75"/><circle cx="181.9" cy="139.3" r="1.75"/><circle cx="180.3" cy="146.8" r="1.75"/><circle cx="184.0" cy="148.4" r="1.75"/><circle cx="185.0" cy="135.1" r="1.75"/><circle cx="186.6" cy="140.4" r="1.75"/><circle cx="188.2" cy="145.2" r="1.75"/><circle cx="189.8" cy="137.2" r="1.75"/><circle cx="191.9" cy="133.5" r="1.75"/><circle cx="192.5" cy="138.3" r="1.75"/><circle cx="194.6" cy="135.6" r="1.75"/><circle cx="196.2" cy="151.5" r="1.75"/><circle cx="198.3" cy="136.7" r="1.75"/><circle cx="199.9" cy="132.4" r="1.75"/><circle cx="202.0" cy="135.6" r="1.75"/><circle cx="205.2" cy="133.0" r="1.75"/><circle cx="207.9" cy="135.1" r="1.75"/><circle cx="197.3" cy="126.6" r="1.75"/><circle cx="202.0" cy="127.1" r="1.75"/><circle cx="207.3" cy="127.7" r="1.75"/><circle cx="95.5" cy="179.3" r="1.75"/><circle cx="97.7" cy="181.8" r="1.75"/><circle cx="96.4" cy="184.4" r="1.75"/><circle cx="101.5" cy="185.6" r="1.75"/><circle cx="105.7" cy="182.2" r="1.75"/><circle cx="110.0" cy="185.6" r="1.75"/><circle cx="107.9" cy="186.9" r="1.75"/><circle cx="86.2" cy="184.8" r="1.75"/><circle cx="93.0" cy="190.3" r="1.75"/><circle cx="84.1" cy="192.0" r="1.75"/><circle cx="79.8" cy="194.1" r="1.75"/><circle cx="88.3" cy="194.1" r="1.75"/><circle cx="94.3" cy="194.6" r="1.75"/><circle cx="102.3" cy="195.8" r="1.75"/><circle cx="84.9" cy="197.1" r="1.75"/><circle cx="87.9" cy="200.1" r="1.75"/><circle cx="77.7" cy="200.1" r="1.75"/><circle cx="94.3" cy="202.6" r="1.75"/><circle cx="79.0" cy="207.3" r="1.75"/><circle cx="116.8" cy="194.6" r="1.75"/><circle cx="116.8" cy="199.2" r="1.75"/><circle cx="119.3" cy="180.5" r="1.75"/><circle cx="115.9" cy="187.3" r="1.75"/><circle cx="113.4" cy="183.1" r="1.75"/></g>
<path d="M136.35454545454544,157.9L153.55454545454543,175.1M136.35454545454544,175.1L153.55454545454543,157.9" stroke="#000" stroke-width="3.0"/>
</g>
<rect x="56.5" y="15.5" width="487.0" height="302.0" fill="none" stroke="#6a6a6a" stroke-width="1"/>
<path d="M505.2,15.8H509.3" stroke="#0000ff" stroke-width="1.2"/>
<path d="M65.35,317.5V319.3M83.04,317.5V319.3M100.73,317.5V320.5M118.42,317.5V319.3M136.11,317.5V319.3M153.80,317.5V319.3M171.49,317.5V319.3M189.18,317.5V320.5M206.87,317.5V319.3M224.56,317.5V319.3M242.25,317.5V319.3M259.95,317.5V319.3M277.64,317.5V320.5M295.33,317.5V319.3M313.02,317.5V319.3M330.71,317.5V319.3M348.40,317.5V319.3M366.09,317.5V320.5M383.78,317.5V319.3M401.47,317.5V319.3M419.16,317.5V319.3M436.85,317.5V319.3M454.55,317.5V320.5M472.24,317.5V319.3M489.93,317.5V319.3M507.62,317.5V319.3M525.31,317.5V319.3M543.00,317.5V320.5M56.5,317.50H54.0M56.5,242.00H54.0M56.5,166.50H54.0M56.5,91.00H54.0M56.5,15.50H54.0" stroke="#555" stroke-width="0.8"/>
<text x="88.88" y="334.1" textLength="22.5" lengthAdjust="spacingAndGlyphs" font-size="16" fill="#3a3a3a" font-family="Liberation Serif">500</text>
<text x="177.33" y="334.1" textLength="22.5" lengthAdjust="spacingAndGlyphs" font-size="16" fill="#3a3a3a" font-family="Liberation Serif">600</text>
<text x="265.79" y="334.1" textLength="22.5" lengthAdjust="spacingAndGlyphs" font-size="16" fill="#3a3a3a" font-family="Liberation Serif">700</text>
<text x="354.24" y="334.1" textLength="22.5" lengthAdjust="spacingAndGlyphs" font-size="16" fill="#3a3a3a" font-family="Liberation Serif">800</text>
<text x="442.70" y="334.1" textLength="22.5" lengthAdjust="spacingAndGlyphs" font-size="16" fill="#3a3a3a" font-family="Liberation Serif">900</text>
<text x="528.30" y="334.1" textLength="28.2" lengthAdjust="spacingAndGlyphs" font-size="16" fill="#3a3a3a" font-family="Liberation Serif">1000</text>
<text x="33.1" y="323.60" textLength="18.4" lengthAdjust="spacingAndGlyphs" font-size="16" fill="#3a3a3a" font-family="Liberation Serif">0.6</text>
<text x="33.1" y="248.10" textLength="18.4" lengthAdjust="spacingAndGlyphs" font-size="16" fill="#3a3a3a" font-family="Liberation Serif">0.8</text>
<text x="33.1" y="172.60" textLength="18.4" lengthAdjust="spacingAndGlyphs" font-size="16" fill="#3a3a3a" font-family="Liberation Serif">1.0</text>
<text x="33.1" y="97.10" textLength="18.4" lengthAdjust="spacingAndGlyphs" font-size="16" fill="#3a3a3a" font-family="Liberation Serif">1.2</text>
<text x="33.1" y="21.60" textLength="18.4" lengthAdjust="spacingAndGlyphs" font-size="16" fill="#3a3a3a" font-family="Liberation Serif">1.4</text>
<text x="245.8" y="352" textLength="107.3" lengthAdjust="spacingAndGlyphs" font-size="16" fill="#3a3a3a" font-family="Liberation Serif">Wavelength (nm)</text>
<text transform="translate(27.2,244) rotate(-90)" textLength="148.3" lengthAdjust="spacingAndGlyphs" font-size="16" fill="#3a3a3a" font-family="Liberation Serif">Normalied Reflectivity</text>
<rect x="62.4" y="252.1" width="92" height="59.3" rx="1.5" fill="#fff" fill-opacity="0.8" stroke="#e3e3e3" stroke-width="0.8"/>
<rect x="68.0" y="257.60" width="25.4" height="9.0" fill="rgb(0,128,0)" fill-opacity="0.45" stroke="rgb(0,128,0)" stroke-opacity="0.3" stroke-width="0.8"/>
<text x="103.3" y="265.9" font-size="12.4" fill="#3a3a3a" font-family="Liberation Serif">V</text>
<path d="M115.5,262.79999999999995H124" stroke="#3a3a3a" stroke-width="0.75"/>
<text x="127.7" y="265.9" textLength="21.80" lengthAdjust="spacingAndGlyphs" font-size="12.4" fill="#3a3a3a" font-family="Liberation Serif">type</text>
<rect x="68.0" y="276.15" width="25.4" height="9.0" fill="rgb(255,0,0)" fill-opacity="0.45" stroke="rgb(255,0,0)" stroke-opacity="0.3" stroke-width="0.8"/>
<text x="102.8" y="284.7" font-size="12.4" fill="#3a3a3a" font-family="Liberation Serif">S</text>
<path d="M112.9,281.59999999999997H120.8" stroke="#3a3a3a" stroke-width="0.75"/>
<text x="124.5" y="284.7" textLength="22.30" lengthAdjust="spacingAndGlyphs" font-size="12.4" fill="#3a3a3a" font-family="Liberation Serif">type</text>
<rect x="68.0" y="294.70" width="25.4" height="9.0" fill="rgb(0,0,255)" fill-opacity="0.45" stroke="rgb(0,0,255)" stroke-opacity="0.3" stroke-width="0.8"/>
<text x="102.8" y="303.6" font-size="12.4" fill="#3a3a3a" font-family="Liberation Serif">C</text>
<path d="M115,300.5H123" stroke="#3a3a3a" stroke-width="0.75"/>
<text x="126.7" y="303.6" textLength="22.10" lengthAdjust="spacingAndGlyphs" font-size="12.4" fill="#3a3a3a" font-family="Liberation Serif">type</text>
</svg></body></html>
